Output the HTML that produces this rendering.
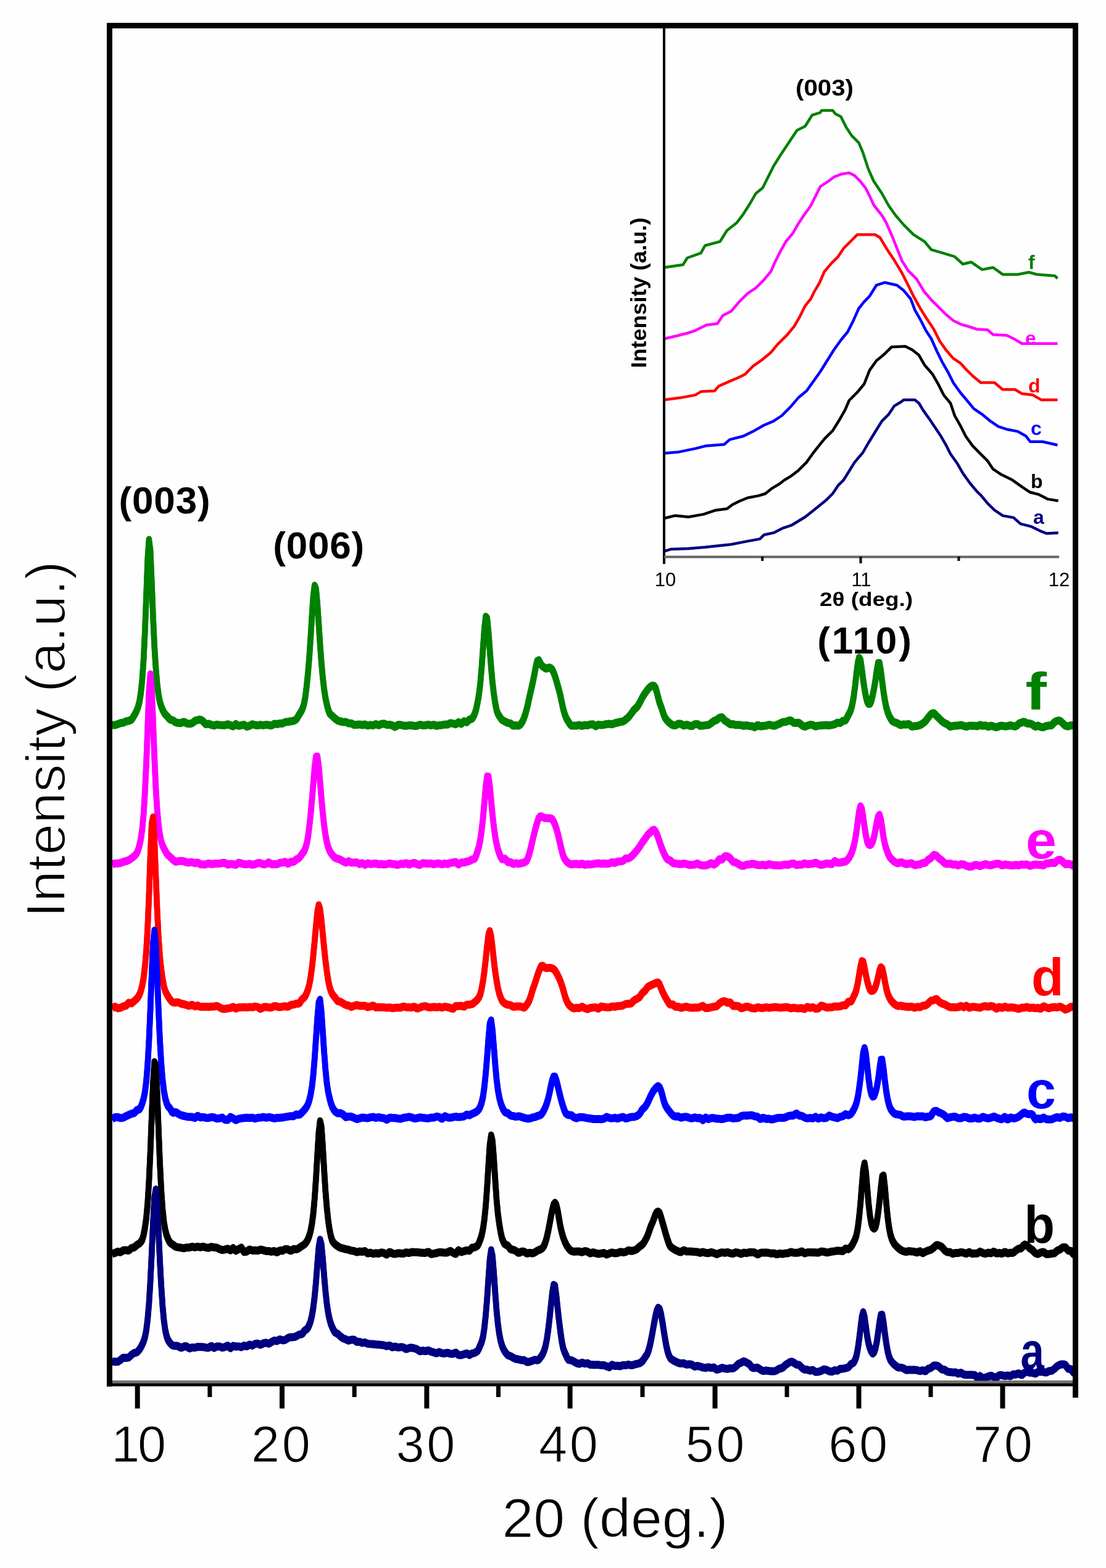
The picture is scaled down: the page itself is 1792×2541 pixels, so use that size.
<!DOCTYPE html>
<html><head><meta charset="utf-8"><title>XRD patterns</title>
<style>html,body{margin:0;padding:0;background:#fff;width:1792px;height:2541px;overflow:hidden}svg{display:block}text{font-family:'Liberation Sans', Arial, sans-serif}</style>
</head><body>
<svg width="1792" height="2541" viewBox="0 0 1792 2541">
<rect width="1792" height="2541" fill="#fefefe"/>
<path id="cvf" d="M182.0,1175.0 L184.2,1174.9 L186.4,1174.9 L188.6,1174.2 L190.8,1173.5 L193.0,1172.7 L195.2,1171.8 L197.4,1171.5 L199.6,1171.2 L201.8,1170.2 L204.0,1169.0 L206.2,1168.6 L208.4,1168.1 L210.6,1167.4 L212.8,1166.5 L215.0,1163.5 L217.2,1159.6 L219.4,1155.9 L221.6,1151.2 L223.8,1145.4 L226.0,1136.8 L228.2,1123.0 L230.4,1101.7 L232.6,1069.8 L234.8,1024.7 L237.0,966.6 L239.2,906.8 L241.4,875.0 L243.6,892.3 L245.8,942.7 L248.0,999.8 L250.2,1047.4 L252.4,1082.4 L254.6,1107.9 L256.8,1125.9 L259.0,1137.3 L261.2,1144.4 L263.4,1149.9 L265.6,1154.5 L267.8,1157.7 L270.0,1159.9 L272.2,1162.3 L274.4,1165.0 L276.6,1166.4 L278.8,1166.9 L281.0,1167.9 L283.2,1169.7 L285.4,1170.8 L287.6,1171.3 L289.8,1171.6 L292.0,1171.8 L294.2,1171.3 L296.4,1170.1 L298.6,1169.9 L300.8,1171.4 L303.0,1172.4 L305.2,1172.7 L307.4,1172.8 L309.6,1172.6 L311.8,1171.7 L314.0,1169.7 L316.2,1168.0 L318.4,1167.5 L320.6,1166.9 L322.8,1166.1 L325.0,1166.4 L327.2,1167.5 L329.4,1169.3 L331.6,1171.9 L333.8,1173.7 L336.0,1173.3 L338.2,1173.0 L340.4,1173.9 L342.6,1174.6 L344.8,1175.4 L347.0,1175.8 L349.2,1174.9 L351.4,1174.2 L353.6,1174.6 L355.8,1174.9 L358.0,1175.1 L360.2,1175.3 L362.4,1175.3 L364.6,1175.2 L366.8,1174.4 L369.0,1173.7 L371.2,1174.5 L373.4,1175.4 L375.6,1176.2 L377.8,1177.0 L380.0,1175.2 L382.2,1173.3 L384.4,1174.8 L386.6,1176.3 L388.8,1175.9 L391.0,1175.4 L393.2,1174.9 L395.4,1174.4 L397.6,1175.9 L399.8,1177.6 L402.0,1177.0 L404.2,1176.2 L406.4,1175.0 L408.6,1173.7 L410.8,1174.1 L413.0,1174.9 L415.2,1175.3 L417.4,1175.6 L419.6,1175.2 L421.8,1174.6 L424.0,1174.9 L426.2,1175.4 L428.4,1175.1 L430.6,1174.5 L432.8,1174.6 L435.0,1175.0 L437.2,1175.4 L439.4,1175.7 L441.6,1174.8 L443.8,1173.3 L446.0,1173.0 L448.2,1173.4 L450.4,1173.2 L452.6,1172.5 L454.8,1172.3 L457.0,1172.4 L459.2,1171.7 L461.4,1170.5 L463.6,1169.9 L465.8,1169.8 L468.0,1169.5 L470.2,1169.0 L472.4,1168.7 L474.6,1168.4 L476.8,1167.7 L479.0,1166.5 L481.2,1164.1 L483.4,1160.3 L485.6,1156.8 L487.8,1153.3 L490.0,1148.7 L492.2,1142.2 L494.4,1131.3 L496.6,1114.4 L498.8,1093.0 L501.0,1066.9 L503.2,1034.5 L505.4,998.3 L507.6,966.1 L509.8,949.2 L512.0,954.5 L514.2,977.9 L516.4,1010.7 L518.6,1044.1 L520.8,1073.8 L523.0,1098.4 L525.2,1117.4 L527.4,1131.4 L529.6,1141.8 L531.8,1150.1 L534.0,1155.9 L536.2,1158.4 L538.4,1160.2 L540.6,1162.4 L542.8,1164.3 L545.0,1166.1 L547.2,1167.7 L549.4,1168.3 L551.6,1168.9 L553.8,1169.6 L556.0,1170.1 L558.2,1170.0 L560.4,1170.0 L562.6,1171.1 L564.8,1172.1 L567.0,1172.2 L569.2,1172.2 L571.4,1173.5 L573.6,1174.7 L575.8,1174.6 L578.0,1174.5 L580.2,1174.2 L582.4,1173.9 L584.6,1174.4 L586.8,1175.0 L589.0,1174.5 L591.2,1174.0 L593.4,1174.9 L595.6,1175.8 L597.8,1175.4 L600.0,1174.8 L602.2,1175.1 L604.4,1175.6 L606.6,1174.7 L608.8,1173.5 L611.0,1174.2 L613.2,1175.3 L615.4,1174.6 L617.6,1173.3 L619.8,1172.9 L622.0,1172.7 L624.2,1173.5 L626.4,1174.6 L628.6,1174.7 L630.8,1174.3 L633.0,1174.7 L635.2,1175.5 L637.4,1176.6 L639.6,1178.0 L641.8,1177.1 L644.0,1175.2 L646.2,1174.6 L648.4,1174.7 L650.6,1175.1 L652.8,1175.6 L655.0,1176.0 L657.2,1176.2 L659.4,1176.0 L661.6,1175.6 L663.8,1175.4 L666.0,1175.4 L668.2,1175.7 L670.4,1176.2 L672.6,1176.5 L674.8,1176.3 L677.0,1175.8 L679.2,1174.8 L681.4,1174.5 L683.6,1175.1 L685.8,1175.5 L688.0,1175.5 L690.2,1175.2 L692.4,1174.5 L694.6,1174.4 L696.8,1175.2 L699.0,1175.4 L701.2,1174.7 L703.4,1174.6 L705.6,1175.7 L707.8,1176.3 L710.0,1175.7 L712.2,1175.3 L714.4,1175.2 L716.6,1174.9 L718.8,1174.4 L721.0,1174.1 L723.2,1174.3 L725.4,1174.1 L727.6,1172.8 L729.8,1171.8 L732.0,1172.2 L734.2,1172.6 L736.4,1173.4 L738.6,1173.7 L740.8,1171.8 L743.0,1170.4 L745.2,1171.9 L747.4,1173.0 L749.6,1170.9 L751.8,1168.9 L754.0,1169.8 L756.2,1170.4 L758.4,1168.3 L760.6,1166.1 L762.8,1165.5 L765.0,1164.3 L767.2,1160.9 L769.4,1156.2 L771.6,1148.8 L773.8,1138.1 L776.0,1125.8 L778.2,1107.7 L780.4,1081.7 L782.6,1050.7 L784.8,1019.3 L787.0,999.4 L789.2,1002.0 L791.4,1023.2 L793.6,1052.8 L795.8,1082.1 L798.0,1106.3 L800.2,1124.8 L802.4,1139.8 L804.6,1150.8 L806.8,1156.8 L809.0,1160.4 L811.2,1163.7 L813.4,1166.4 L815.6,1168.0 L817.8,1169.0 L820.0,1170.2 L822.2,1171.3 L824.4,1171.8 L826.6,1172.1 L828.8,1173.7 L831.0,1175.8 L833.2,1176.1 L835.4,1175.4 L837.6,1175.7 L839.8,1176.1 L842.0,1175.2 L844.2,1172.9 L846.4,1169.5 L848.6,1164.6 L850.8,1158.4 L853.0,1150.8 L855.2,1141.7 L857.4,1131.6 L859.6,1121.7 L861.8,1112.2 L864.0,1102.2 L866.2,1090.8 L868.4,1079.0 L870.6,1071.0 L872.8,1070.0 L875.0,1073.7 L877.2,1077.7 L879.4,1080.1 L881.6,1081.5 L883.8,1083.1 L886.0,1083.5 L888.2,1082.2 L890.4,1081.8 L892.6,1082.9 L894.8,1085.3 L897.0,1089.8 L899.2,1095.7 L901.4,1103.0 L903.6,1111.0 L905.8,1118.4 L908.0,1127.3 L910.2,1138.1 L912.4,1148.0 L914.6,1156.0 L916.8,1162.3 L919.0,1166.6 L921.2,1169.8 L923.4,1173.5 L925.6,1175.9 L927.8,1176.0 L930.0,1175.9 L932.2,1176.0 L934.4,1176.0 L936.6,1175.4 L938.8,1175.0 L941.0,1175.8 L943.2,1176.3 L945.4,1175.7 L947.6,1175.1 L949.8,1175.3 L952.0,1175.4 L954.2,1174.7 L956.4,1174.0 L958.6,1173.9 L960.8,1173.8 L963.0,1175.4 L965.2,1176.9 L967.4,1175.6 L969.6,1174.3 L971.8,1174.7 L974.0,1175.1 L976.2,1174.8 L978.4,1174.4 L980.6,1174.0 L982.8,1173.5 L985.0,1173.3 L987.2,1173.0 L989.4,1173.4 L991.6,1173.8 L993.8,1173.0 L996.0,1172.0 L998.2,1171.5 L1000.4,1171.0 L1002.6,1170.5 L1004.8,1169.8 L1007.0,1169.5 L1009.2,1169.2 L1011.4,1167.9 L1013.6,1166.2 L1015.8,1164.4 L1018.0,1162.4 L1020.2,1159.9 L1022.4,1157.0 L1024.6,1154.0 L1026.8,1150.7 L1029.0,1148.6 L1031.2,1146.8 L1033.4,1143.9 L1035.6,1140.3 L1037.8,1136.1 L1040.0,1131.6 L1042.2,1127.8 L1044.4,1124.5 L1046.6,1121.2 L1048.8,1118.2 L1051.0,1115.5 L1053.2,1113.3 L1055.4,1111.8 L1057.6,1111.1 L1059.8,1111.4 L1062.0,1114.5 L1064.2,1121.3 L1066.4,1130.5 L1068.6,1138.4 L1070.8,1144.3 L1073.0,1150.7 L1075.2,1157.7 L1077.4,1162.8 L1079.6,1166.1 L1081.8,1168.6 L1084.0,1170.8 L1086.2,1172.6 L1088.4,1174.2 L1090.6,1175.3 L1092.8,1175.6 L1095.0,1175.3 L1097.2,1173.9 L1099.4,1172.9 L1101.6,1172.8 L1103.8,1173.3 L1106.0,1175.0 L1108.2,1176.0 L1110.4,1175.0 L1112.6,1174.4 L1114.8,1175.1 L1117.0,1175.8 L1119.2,1176.4 L1121.4,1176.6 L1123.6,1175.0 L1125.8,1173.7 L1128.0,1173.4 L1130.2,1173.5 L1132.4,1175.0 L1134.6,1176.3 L1136.8,1176.1 L1139.0,1175.9 L1141.2,1175.6 L1143.4,1175.3 L1145.6,1175.1 L1147.8,1174.8 L1150.0,1173.5 L1152.2,1171.9 L1154.4,1170.3 L1156.6,1168.4 L1158.8,1167.7 L1161.0,1166.9 L1163.2,1164.9 L1165.4,1163.4 L1167.6,1162.6 L1169.8,1162.5 L1172.0,1164.8 L1174.2,1167.6 L1176.4,1168.9 L1178.6,1170.2 L1180.8,1172.0 L1183.0,1173.5 L1185.2,1173.8 L1187.4,1173.6 L1189.6,1174.2 L1191.8,1174.8 L1194.0,1174.8 L1196.2,1174.8 L1198.4,1174.9 L1200.6,1175.0 L1202.8,1175.6 L1205.0,1176.3 L1207.2,1176.0 L1209.4,1175.4 L1211.6,1175.8 L1213.8,1176.6 L1216.0,1176.8 L1218.2,1176.8 L1220.4,1177.5 L1222.6,1178.6 L1224.8,1177.5 L1227.0,1175.3 L1229.2,1175.5 L1231.4,1176.9 L1233.6,1177.1 L1235.8,1176.4 L1238.0,1176.2 L1240.2,1176.2 L1242.4,1175.7 L1244.6,1174.7 L1246.8,1174.6 L1249.0,1175.2 L1251.2,1175.7 L1253.4,1176.2 L1255.6,1176.0 L1257.8,1174.9 L1260.0,1174.0 L1262.2,1173.3 L1264.4,1172.2 L1266.6,1170.9 L1268.8,1170.1 L1271.0,1170.1 L1273.2,1169.7 L1275.4,1168.8 L1277.6,1168.1 L1279.8,1167.4 L1282.0,1167.9 L1284.2,1170.0 L1286.4,1171.3 L1288.6,1171.5 L1290.8,1171.4 L1293.0,1171.2 L1295.2,1171.7 L1297.4,1173.7 L1299.6,1175.5 L1301.8,1176.8 L1304.0,1177.5 L1306.2,1176.7 L1308.4,1175.9 L1310.6,1175.1 L1312.8,1174.5 L1315.0,1174.6 L1317.2,1175.0 L1319.4,1176.3 L1321.6,1177.2 L1323.8,1176.5 L1326.0,1175.9 L1328.2,1175.8 L1330.4,1175.6 L1332.6,1175.4 L1334.8,1175.2 L1337.0,1175.2 L1339.2,1175.1 L1341.4,1175.4 L1343.6,1175.6 L1345.8,1175.2 L1348.0,1174.8 L1350.2,1174.2 L1352.4,1173.6 L1354.6,1172.4 L1356.8,1171.1 L1359.0,1171.4 L1361.2,1171.7 L1363.4,1170.1 L1365.6,1168.2 L1367.8,1167.9 L1370.0,1167.3 L1372.2,1163.6 L1374.4,1159.0 L1376.6,1155.2 L1378.8,1149.7 L1381.0,1141.2 L1383.2,1129.2 L1385.4,1112.5 L1387.6,1092.4 L1389.8,1075.0 L1392.0,1066.0 L1394.2,1069.7 L1396.4,1084.7 L1398.6,1102.0 L1400.8,1116.8 L1403.0,1128.8 L1405.2,1137.1 L1407.4,1140.8 L1409.6,1140.6 L1411.8,1135.6 L1414.0,1126.5 L1416.2,1115.9 L1418.4,1102.6 L1420.6,1086.5 L1422.8,1074.5 L1425.0,1074.6 L1427.2,1087.3 L1429.4,1104.9 L1431.6,1121.4 L1433.8,1135.4 L1436.0,1146.3 L1438.2,1154.0 L1440.4,1159.4 L1442.6,1163.6 L1444.8,1167.2 L1447.0,1169.3 L1449.2,1170.3 L1451.4,1171.2 L1453.6,1171.9 L1455.8,1173.1 L1458.0,1174.7 L1460.2,1175.1 L1462.4,1174.2 L1464.6,1173.8 L1466.8,1174.2 L1469.0,1174.1 L1471.2,1173.4 L1473.4,1173.9 L1475.6,1176.1 L1477.8,1177.4 L1480.0,1177.0 L1482.2,1176.7 L1484.4,1176.5 L1486.6,1176.2 L1488.8,1175.7 L1491.0,1174.9 L1493.2,1173.6 L1495.4,1172.1 L1497.6,1170.5 L1499.8,1168.3 L1502.0,1165.4 L1504.2,1162.4 L1506.4,1159.6 L1508.6,1157.3 L1510.8,1155.9 L1513.0,1155.8 L1515.2,1157.6 L1517.4,1160.2 L1519.6,1162.2 L1521.8,1164.4 L1524.0,1166.8 L1526.2,1168.8 L1528.4,1170.5 L1530.6,1171.8 L1532.8,1172.9 L1535.0,1173.8 L1537.2,1175.8 L1539.4,1177.5 L1541.6,1177.0 L1543.8,1176.5 L1546.0,1176.3 L1548.2,1176.1 L1550.4,1176.0 L1552.6,1175.7 L1554.8,1175.3 L1557.0,1174.9 L1559.2,1175.6 L1561.4,1176.3 L1563.6,1176.9 L1565.8,1177.6 L1568.0,1176.9 L1570.2,1176.1 L1572.4,1176.1 L1574.6,1176.3 L1576.8,1176.3 L1579.0,1176.3 L1581.2,1176.5 L1583.4,1176.8 L1585.6,1175.9 L1587.8,1174.8 L1590.0,1175.4 L1592.2,1176.2 L1594.4,1176.1 L1596.6,1175.7 L1598.8,1176.5 L1601.0,1177.7 L1603.2,1177.1 L1605.4,1176.1 L1607.6,1176.4 L1609.8,1177.3 L1612.0,1178.0 L1614.2,1178.6 L1616.4,1178.0 L1618.6,1176.8 L1620.8,1176.3 L1623.0,1176.1 L1625.2,1176.4 L1627.4,1176.9 L1629.6,1177.0 L1631.8,1176.8 L1634.0,1176.3 L1636.2,1175.6 L1638.4,1175.7 L1640.6,1176.3 L1642.8,1176.9 L1645.0,1177.3 L1647.2,1176.3 L1649.4,1174.0 L1651.6,1172.3 L1653.8,1171.5 L1656.0,1170.6 L1658.2,1169.8 L1660.4,1170.1 L1662.6,1171.5 L1664.8,1172.4 L1667.0,1172.3 L1669.2,1172.7 L1671.4,1173.5 L1673.6,1174.8 L1675.8,1176.8 L1678.0,1177.5 L1680.2,1176.3 L1682.4,1176.0 L1684.6,1177.3 L1686.8,1178.2 L1689.0,1178.5 L1691.2,1178.3 L1693.4,1177.3 L1695.6,1176.5 L1697.8,1176.1 L1700.0,1175.8 L1702.2,1175.8 L1704.4,1175.0 L1706.6,1172.4 L1708.8,1170.1 L1711.0,1168.9 L1713.2,1168.1 L1715.4,1167.7 L1717.6,1168.1 L1719.8,1170.0 L1722.0,1172.2 L1724.2,1174.3 L1726.4,1176.2 L1728.6,1176.7 L1730.8,1177.0 L1733.0,1176.2 L1735.2,1175.4 L1737.4,1175.6 L1739.6,1175.8 L1741.8,1176.1" fill="none" stroke="#008000" stroke-width="9.5" stroke-linejoin="round" stroke-linecap="butt" transform="translate(0,-1.75)"/>
<use href="#cvf" transform="translate(0,3.5)"/>
<path id="cve" d="M182.0,1400.4 L184.2,1399.8 L186.4,1399.3 L188.6,1399.2 L190.8,1399.2 L193.0,1398.9 L195.2,1398.5 L197.4,1397.6 L199.6,1396.7 L201.8,1396.2 L204.0,1395.6 L206.2,1394.9 L208.4,1394.0 L210.6,1392.6 L212.8,1391.0 L215.0,1389.4 L217.2,1387.5 L219.4,1385.5 L221.6,1382.6 L223.8,1377.3 L226.0,1369.6 L228.2,1359.2 L230.4,1343.9 L232.6,1320.1 L234.8,1285.0 L237.0,1238.1 L239.2,1179.6 L241.4,1120.6 L243.6,1092.8 L245.8,1115.6 L248.0,1169.0 L250.2,1227.0 L252.4,1275.9 L254.6,1311.7 L256.8,1336.2 L259.0,1352.6 L261.2,1363.3 L263.4,1370.3 L265.6,1374.8 L267.8,1379.0 L270.0,1383.0 L272.2,1385.8 L274.4,1387.6 L276.6,1389.6 L278.8,1391.7 L281.0,1393.8 L283.2,1395.8 L285.4,1396.5 L287.6,1395.9 L289.8,1395.4 L292.0,1395.3 L294.2,1395.3 L296.4,1395.4 L298.6,1395.9 L300.8,1396.9 L303.0,1397.6 L305.2,1397.7 L307.4,1397.7 L309.6,1397.2 L311.8,1397.3 L314.0,1398.2 L316.2,1398.7 L318.4,1398.0 L320.6,1397.9 L322.8,1399.5 L325.0,1400.7 L327.2,1400.7 L329.4,1400.8 L331.6,1400.9 L333.8,1400.7 L336.0,1399.8 L338.2,1399.2 L340.4,1399.9 L342.6,1400.4 L344.8,1400.0 L347.0,1399.7 L349.2,1399.6 L351.4,1399.5 L353.6,1399.5 L355.8,1399.5 L358.0,1398.9 L360.2,1398.4 L362.4,1398.3 L364.6,1398.4 L366.8,1399.8 L369.0,1401.2 L371.2,1400.6 L373.4,1400.0 L375.6,1400.3 L377.8,1400.5 L380.0,1401.0 L382.2,1401.5 L384.4,1399.8 L386.6,1398.1 L388.8,1398.6 L391.0,1399.2 L393.2,1399.8 L395.4,1400.4 L397.6,1400.6 L399.8,1400.7 L402.0,1400.3 L404.2,1399.8 L406.4,1400.5 L408.6,1401.4 L410.8,1401.0 L413.0,1400.5 L415.2,1399.6 L417.4,1398.7 L419.6,1398.6 L421.8,1398.7 L424.0,1399.6 L426.2,1400.6 L428.4,1400.7 L430.6,1400.4 L432.8,1399.2 L435.0,1397.6 L437.2,1398.6 L439.4,1400.6 L441.6,1400.8 L443.8,1400.2 L446.0,1400.3 L448.2,1400.6 L450.4,1399.9 L452.6,1398.7 L454.8,1398.1 L457.0,1398.0 L459.2,1397.4 L461.4,1396.6 L463.6,1397.5 L465.8,1399.5 L468.0,1399.2 L470.2,1397.0 L472.4,1396.3 L474.6,1396.8 L476.8,1395.9 L479.0,1393.6 L481.2,1392.1 L483.4,1391.3 L485.6,1389.4 L487.8,1386.2 L490.0,1383.1 L492.2,1380.2 L494.4,1375.6 L496.6,1368.7 L498.8,1357.7 L501.0,1341.1 L503.2,1320.7 L505.4,1297.3 L507.6,1270.2 L509.8,1243.5 L512.0,1226.4 L514.2,1226.0 L516.4,1241.7 L518.6,1266.9 L520.8,1293.7 L523.0,1317.8 L525.2,1337.7 L527.4,1353.3 L529.6,1364.9 L531.8,1372.9 L534.0,1378.5 L536.2,1382.5 L538.4,1385.4 L540.6,1388.0 L542.8,1390.0 L545.0,1390.9 L547.2,1391.7 L549.4,1392.4 L551.6,1393.2 L553.8,1394.6 L556.0,1396.0 L558.2,1397.1 L560.4,1397.9 L562.6,1396.8 L564.8,1395.6 L567.0,1396.9 L569.2,1398.1 L571.4,1397.9 L573.6,1397.7 L575.8,1397.7 L578.0,1397.6 L580.2,1398.9 L582.4,1400.2 L584.6,1399.5 L586.8,1398.8 L589.0,1400.0 L591.2,1401.4 L593.4,1400.3 L595.6,1398.9 L597.8,1399.4 L600.0,1400.3 L602.2,1400.1 L604.4,1399.7 L606.6,1399.4 L608.8,1399.2 L611.0,1399.8 L613.2,1400.7 L615.4,1400.6 L617.6,1400.1 L619.8,1400.5 L622.0,1401.0 L624.2,1400.8 L626.4,1400.4 L628.6,1399.9 L630.8,1399.2 L633.0,1399.5 L635.2,1400.1 L637.4,1400.4 L639.6,1400.5 L641.8,1401.0 L644.0,1401.6 L646.2,1401.0 L648.4,1399.9 L650.6,1399.7 L652.8,1400.3 L655.0,1399.9 L657.2,1398.8 L659.4,1399.2 L661.6,1400.8 L663.8,1400.9 L666.0,1399.7 L668.2,1399.0 L670.4,1398.5 L672.6,1398.8 L674.8,1399.9 L677.0,1400.9 L679.2,1401.6 L681.4,1401.3 L683.6,1399.6 L685.8,1398.7 L688.0,1399.0 L690.2,1399.2 L692.4,1399.4 L694.6,1399.4 L696.8,1399.2 L699.0,1399.3 L701.2,1400.3 L703.4,1400.6 L705.6,1399.8 L707.8,1399.3 L710.0,1399.3 L712.2,1399.5 L714.4,1400.3 L716.6,1400.7 L718.8,1399.7 L721.0,1399.2 L723.2,1399.9 L725.4,1400.2 L727.6,1399.2 L729.8,1398.4 L732.0,1398.1 L734.2,1397.8 L736.4,1397.2 L738.6,1397.1 L740.8,1399.3 L743.0,1400.9 L745.2,1399.3 L747.4,1397.8 L749.6,1397.8 L751.8,1397.8 L754.0,1397.1 L756.2,1396.4 L758.4,1395.9 L760.6,1395.2 L762.8,1394.1 L765.0,1392.8 L767.2,1392.3 L769.4,1391.2 L771.6,1386.0 L773.8,1379.3 L776.0,1371.7 L778.2,1360.7 L780.4,1345.7 L782.6,1325.7 L784.8,1300.7 L787.0,1275.0 L789.2,1258.3 L791.4,1258.6 L793.6,1273.9 L795.8,1297.5 L798.0,1320.6 L800.2,1340.3 L802.4,1356.2 L804.6,1367.9 L806.8,1376.8 L809.0,1383.3 L811.2,1388.3 L813.4,1392.2 L815.6,1392.4 L817.8,1391.3 L820.0,1393.5 L822.2,1396.6 L824.4,1397.3 L826.6,1396.9 L828.8,1398.1 L831.0,1400.0 L833.2,1399.9 L835.4,1398.9 L837.6,1399.0 L839.8,1399.7 L842.0,1399.6 L844.2,1398.8 L846.4,1398.3 L848.6,1397.8 L850.8,1396.9 L853.0,1395.3 L855.2,1391.0 L857.4,1384.2 L859.6,1375.8 L861.8,1366.4 L864.0,1357.0 L866.2,1348.2 L868.4,1339.9 L870.6,1332.0 L872.8,1325.9 L875.0,1323.1 L877.2,1322.9 L879.4,1324.1 L881.6,1325.3 L883.8,1325.7 L886.0,1325.8 L888.2,1325.9 L890.4,1326.0 L892.6,1326.2 L894.8,1327.7 L897.0,1331.4 L899.2,1336.3 L901.4,1342.3 L903.6,1350.2 L905.8,1359.6 L908.0,1369.4 L910.2,1378.6 L912.4,1386.3 L914.6,1391.3 L916.8,1394.7 L919.0,1397.2 L921.2,1398.7 L923.4,1400.0 L925.6,1400.7 L927.8,1400.4 L930.0,1400.2 L932.2,1400.1 L934.4,1400.0 L936.6,1400.5 L938.8,1400.7 L941.0,1400.1 L943.2,1399.6 L945.4,1400.6 L947.6,1401.5 L949.8,1401.0 L952.0,1400.6 L954.2,1400.7 L956.4,1400.9 L958.6,1400.6 L960.8,1400.2 L963.0,1399.8 L965.2,1399.4 L967.4,1399.2 L969.6,1399.0 L971.8,1399.4 L974.0,1399.7 L976.2,1399.5 L978.4,1399.2 L980.6,1399.5 L982.8,1399.9 L985.0,1399.6 L987.2,1399.3 L989.4,1398.4 L991.6,1397.3 L993.8,1397.7 L996.0,1398.4 L998.2,1397.4 L1000.4,1396.2 L1002.6,1396.0 L1004.8,1395.9 L1007.0,1395.6 L1009.2,1395.1 L1011.4,1393.4 L1013.6,1391.3 L1015.8,1391.0 L1018.0,1391.1 L1020.2,1390.0 L1022.4,1388.4 L1024.6,1386.4 L1026.8,1384.1 L1029.0,1381.6 L1031.2,1378.9 L1033.4,1376.1 L1035.6,1373.2 L1037.8,1369.8 L1040.0,1366.2 L1042.2,1363.1 L1044.4,1360.2 L1046.6,1357.1 L1048.8,1353.9 L1051.0,1351.3 L1053.2,1349.3 L1055.4,1347.2 L1057.6,1345.2 L1059.8,1344.8 L1062.0,1347.0 L1064.2,1351.5 L1066.4,1357.4 L1068.6,1364.0 L1070.8,1370.5 L1073.0,1376.5 L1075.2,1381.6 L1077.4,1386.2 L1079.6,1390.4 L1081.8,1392.9 L1084.0,1393.4 L1086.2,1394.5 L1088.4,1397.0 L1090.6,1398.5 L1092.8,1399.0 L1095.0,1399.3 L1097.2,1399.7 L1099.4,1400.0 L1101.6,1400.3 L1103.8,1400.3 L1106.0,1399.8 L1108.2,1399.5 L1110.4,1399.9 L1112.6,1400.4 L1114.8,1401.0 L1117.0,1401.5 L1119.2,1401.5 L1121.4,1401.4 L1123.6,1401.3 L1125.8,1401.0 L1128.0,1399.9 L1130.2,1399.3 L1132.4,1400.6 L1134.6,1401.8 L1136.8,1402.2 L1139.0,1402.6 L1141.2,1402.5 L1143.4,1402.3 L1145.6,1401.8 L1147.8,1401.2 L1150.0,1399.9 L1152.2,1398.7 L1154.4,1400.0 L1156.6,1401.1 L1158.8,1399.8 L1161.0,1398.2 L1163.2,1395.5 L1165.4,1392.5 L1167.6,1392.7 L1169.8,1392.9 L1172.0,1390.3 L1174.2,1388.0 L1176.4,1387.5 L1178.6,1387.8 L1180.8,1389.0 L1183.0,1390.8 L1185.2,1393.5 L1187.4,1396.4 L1189.6,1397.2 L1191.8,1397.5 L1194.0,1398.7 L1196.2,1399.9 L1198.4,1401.3 L1200.6,1402.7 L1202.8,1403.0 L1205.0,1403.1 L1207.2,1402.3 L1209.4,1401.3 L1211.6,1401.0 L1213.8,1400.9 L1216.0,1400.5 L1218.2,1399.8 L1220.4,1399.9 L1222.6,1400.3 L1224.8,1400.9 L1227.0,1401.6 L1229.2,1401.9 L1231.4,1401.9 L1233.6,1401.7 L1235.8,1401.6 L1238.0,1401.8 L1240.2,1402.4 L1242.4,1402.0 L1244.6,1400.8 L1246.8,1400.6 L1249.0,1401.1 L1251.2,1401.6 L1253.4,1402.1 L1255.6,1402.3 L1257.8,1402.2 L1260.0,1402.3 L1262.2,1402.6 L1264.4,1402.5 L1266.6,1402.1 L1268.8,1401.6 L1271.0,1401.2 L1273.2,1401.1 L1275.4,1401.5 L1277.6,1401.4 L1279.8,1400.5 L1282.0,1399.8 L1284.2,1399.4 L1286.4,1399.6 L1288.6,1401.0 L1290.8,1401.8 L1293.0,1401.4 L1295.2,1401.1 L1297.4,1401.3 L1299.6,1401.1 L1301.8,1399.8 L1304.0,1399.1 L1306.2,1399.9 L1308.4,1400.5 L1310.6,1400.3 L1312.8,1400.1 L1315.0,1399.9 L1317.2,1399.5 L1319.4,1398.6 L1321.6,1398.0 L1323.8,1399.2 L1326.0,1400.3 L1328.2,1401.0 L1330.4,1401.6 L1332.6,1401.1 L1334.8,1400.7 L1337.0,1399.9 L1339.2,1399.3 L1341.4,1399.5 L1343.6,1399.7 L1345.8,1400.1 L1348.0,1400.2 L1350.2,1397.8 L1352.4,1395.3 L1354.6,1396.7 L1356.8,1398.0 L1359.0,1398.0 L1361.2,1398.0 L1363.4,1397.4 L1365.6,1396.8 L1367.8,1396.5 L1370.0,1396.0 L1372.2,1394.2 L1374.4,1391.9 L1376.6,1388.7 L1378.8,1384.4 L1381.0,1379.0 L1383.2,1371.5 L1385.4,1361.4 L1387.6,1348.1 L1389.8,1331.2 L1392.0,1314.8 L1394.2,1306.7 L1396.4,1311.0 L1398.6,1324.6 L1400.8,1340.4 L1403.0,1354.0 L1405.2,1363.9 L1407.4,1368.6 L1409.6,1369.4 L1411.8,1368.0 L1414.0,1363.7 L1416.2,1356.2 L1418.4,1345.3 L1420.6,1333.0 L1422.8,1323.2 L1425.0,1320.6 L1427.2,1327.9 L1429.4,1342.1 L1431.6,1357.1 L1433.8,1368.2 L1436.0,1375.5 L1438.2,1381.6 L1440.4,1386.6 L1442.6,1390.1 L1444.8,1392.4 L1447.0,1394.4 L1449.2,1396.4 L1451.4,1397.8 L1453.6,1398.8 L1455.8,1398.7 L1458.0,1397.6 L1460.2,1397.4 L1462.4,1398.1 L1464.6,1399.0 L1466.8,1400.0 L1469.0,1400.4 L1471.2,1399.9 L1473.4,1399.5 L1475.6,1399.0 L1477.8,1399.3 L1480.0,1401.0 L1482.2,1402.0 L1484.4,1401.6 L1486.6,1401.2 L1488.8,1401.0 L1491.0,1400.5 L1493.2,1399.4 L1495.4,1398.5 L1497.6,1398.5 L1499.8,1397.7 L1502.0,1395.2 L1504.2,1392.9 L1506.4,1391.8 L1508.6,1390.3 L1510.8,1387.5 L1513.0,1385.6 L1515.2,1385.7 L1517.4,1386.8 L1519.6,1389.0 L1521.8,1391.4 L1524.0,1392.8 L1526.2,1394.3 L1528.4,1396.8 L1530.6,1398.9 L1532.8,1399.6 L1535.0,1400.0 L1537.2,1399.8 L1539.4,1399.4 L1541.6,1400.3 L1543.8,1401.1 L1546.0,1400.9 L1548.2,1400.7 L1550.4,1401.6 L1552.6,1402.5 L1554.8,1401.5 L1557.0,1400.6 L1559.2,1400.7 L1561.4,1400.8 L1563.6,1401.9 L1565.8,1403.0 L1568.0,1403.7 L1570.2,1404.4 L1572.4,1404.3 L1574.6,1404.2 L1576.8,1403.1 L1579.0,1401.8 L1581.2,1401.8 L1583.4,1401.9 L1585.6,1402.6 L1587.8,1403.5 L1590.0,1402.8 L1592.2,1401.7 L1594.4,1401.1 L1596.6,1400.5 L1598.8,1401.0 L1601.0,1401.7 L1603.2,1402.0 L1605.4,1402.3 L1607.6,1401.7 L1609.8,1400.9 L1612.0,1400.3 L1614.2,1399.8 L1616.4,1399.7 L1618.6,1399.9 L1620.8,1400.8 L1623.0,1402.2 L1625.2,1402.1 L1627.4,1401.2 L1629.6,1401.1 L1631.8,1401.5 L1634.0,1401.8 L1636.2,1402.0 L1638.4,1402.3 L1640.6,1402.5 L1642.8,1402.3 L1645.0,1401.7 L1647.2,1401.7 L1649.4,1402.3 L1651.6,1402.1 L1653.8,1401.2 L1656.0,1400.9 L1658.2,1401.2 L1660.4,1401.2 L1662.6,1400.8 L1664.8,1401.2 L1667.0,1402.5 L1669.2,1403.1 L1671.4,1402.3 L1673.6,1401.7 L1675.8,1401.2 L1678.0,1401.0 L1680.2,1401.2 L1682.4,1401.4 L1684.6,1401.5 L1686.8,1401.7 L1689.0,1402.2 L1691.2,1402.1 L1693.4,1400.5 L1695.6,1399.2 L1697.8,1399.2 L1700.0,1398.9 L1702.2,1398.4 L1704.4,1398.1 L1706.6,1398.6 L1708.8,1398.6 L1711.0,1396.3 L1713.2,1394.4 L1715.4,1393.4 L1717.6,1393.2 L1719.8,1394.6 L1722.0,1396.4 L1724.2,1398.7 L1726.4,1400.6 L1728.6,1400.3 L1730.8,1399.8 L1733.0,1400.4 L1735.2,1400.9 L1737.4,1402.2 L1739.6,1403.3 L1741.8,1403.0" fill="none" stroke="#ff00ff" stroke-width="9.5" stroke-linejoin="round" stroke-linecap="butt" transform="translate(0,-1.75)"/>
<use href="#cve" transform="translate(0,3.5)"/>
<path id="cvd" d="M182.0,1633.4 L184.2,1632.4 L186.4,1631.4 L188.6,1632.7 L190.8,1634.0 L193.0,1633.6 L195.2,1633.1 L197.4,1632.1 L199.6,1630.9 L201.8,1630.4 L204.0,1629.9 L206.2,1627.6 L208.4,1625.1 L210.6,1625.4 L212.8,1626.0 L215.0,1624.5 L217.2,1622.4 L219.4,1620.6 L221.6,1618.6 L223.8,1615.6 L226.0,1611.7 L228.2,1605.8 L230.4,1597.4 L232.6,1585.1 L234.8,1566.8 L237.0,1541.2 L239.2,1503.8 L241.4,1450.9 L243.6,1387.6 L245.8,1334.9 L248.0,1324.7 L250.2,1360.8 L252.4,1418.1 L254.6,1473.6 L256.8,1518.0 L259.0,1549.4 L261.2,1570.3 L263.4,1586.1 L265.6,1598.5 L267.8,1606.2 L270.0,1610.7 L272.2,1614.5 L274.4,1618.1 L276.6,1621.0 L278.8,1623.4 L281.0,1624.6 L283.2,1624.7 L285.4,1624.5 L287.6,1624.3 L289.8,1624.7 L292.0,1625.9 L294.2,1626.7 L296.4,1627.0 L298.6,1627.5 L300.8,1628.3 L303.0,1629.0 L305.2,1629.7 L307.4,1629.7 L309.6,1628.6 L311.8,1628.4 L314.0,1630.1 L316.2,1630.9 L318.4,1629.9 L320.6,1629.5 L322.8,1630.8 L325.0,1631.7 L327.2,1631.6 L329.4,1631.4 L331.6,1631.4 L333.8,1631.4 L336.0,1631.6 L338.2,1631.8 L340.4,1631.5 L342.6,1631.3 L344.8,1631.3 L347.0,1631.2 L349.2,1630.6 L351.4,1630.2 L353.6,1631.3 L355.8,1632.4 L358.0,1633.7 L360.2,1634.8 L362.4,1634.9 L364.6,1635.0 L366.8,1634.6 L369.0,1634.2 L371.2,1633.8 L373.4,1633.4 L375.6,1632.5 L377.8,1631.7 L380.0,1633.0 L382.2,1634.4 L384.4,1633.5 L386.6,1632.5 L388.8,1632.5 L391.0,1632.5 L393.2,1632.3 L395.4,1632.2 L397.6,1632.4 L399.8,1632.6 L402.0,1632.3 L404.2,1632.0 L406.4,1632.1 L408.6,1632.3 L410.8,1631.8 L413.0,1631.1 L415.2,1631.4 L417.4,1631.8 L419.6,1633.2 L421.8,1634.9 L424.0,1634.1 L426.2,1632.5 L428.4,1632.0 L430.6,1631.8 L432.8,1632.1 L435.0,1632.5 L437.2,1632.7 L439.4,1632.7 L441.6,1631.9 L443.8,1630.6 L446.0,1630.5 L448.2,1631.0 L450.4,1631.5 L452.6,1632.1 L454.8,1632.0 L457.0,1631.4 L459.2,1631.0 L461.4,1630.7 L463.6,1630.9 L465.8,1631.5 L468.0,1630.9 L470.2,1629.1 L472.4,1628.2 L474.6,1628.2 L476.8,1627.7 L479.0,1626.7 L481.2,1626.3 L483.4,1626.6 L485.6,1625.2 L487.8,1621.5 L490.0,1618.8 L492.2,1617.3 L494.4,1614.6 L496.6,1610.2 L498.8,1604.2 L501.0,1596.2 L503.2,1584.5 L505.4,1568.5 L507.6,1548.4 L509.8,1525.3 L512.0,1500.3 L514.2,1477.6 L516.4,1467.0 L518.6,1473.6 L520.8,1491.4 L523.0,1513.6 L525.2,1536.4 L527.4,1557.1 L529.6,1574.4 L531.8,1588.8 L534.0,1599.6 L536.2,1606.2 L538.4,1610.8 L540.6,1614.0 L542.8,1616.4 L545.0,1619.7 L547.2,1622.3 L549.4,1622.9 L551.6,1623.4 L553.8,1624.9 L556.0,1626.2 L558.2,1627.5 L560.4,1628.6 L562.6,1629.1 L564.8,1629.5 L567.0,1630.7 L569.2,1631.7 L571.4,1630.9 L573.6,1630.0 L575.8,1629.3 L578.0,1628.7 L580.2,1629.3 L582.4,1630.0 L584.6,1630.0 L586.8,1630.0 L589.0,1630.0 L591.2,1629.9 L593.4,1630.9 L595.6,1632.1 L597.8,1631.7 L600.0,1631.0 L602.2,1630.3 L604.4,1629.5 L606.6,1630.8 L608.8,1632.6 L611.0,1632.6 L613.2,1632.1 L615.4,1632.3 L617.6,1632.6 L619.8,1632.6 L622.0,1632.5 L624.2,1632.7 L626.4,1633.1 L628.6,1632.9 L630.8,1632.6 L633.0,1633.0 L635.2,1633.8 L637.4,1633.7 L639.6,1633.2 L641.8,1633.1 L644.0,1633.1 L646.2,1633.1 L648.4,1633.1 L650.6,1632.4 L652.8,1631.2 L655.0,1631.2 L657.2,1632.1 L659.4,1632.4 L661.6,1632.3 L663.8,1632.5 L666.0,1632.8 L668.2,1632.4 L670.4,1631.4 L672.6,1631.9 L674.8,1633.8 L677.0,1634.3 L679.2,1633.3 L681.4,1632.4 L683.6,1631.5 L685.8,1630.9 L688.0,1630.6 L690.2,1630.8 L692.4,1631.7 L694.6,1632.3 L696.8,1632.4 L699.0,1632.3 L701.2,1631.9 L703.4,1631.7 L705.6,1632.2 L707.8,1632.4 L710.0,1631.9 L712.2,1631.8 L714.4,1632.5 L716.6,1632.8 L718.8,1631.9 L721.0,1631.4 L723.2,1631.8 L725.4,1632.2 L727.6,1632.8 L729.8,1633.4 L732.0,1634.4 L734.2,1634.7 L736.4,1632.3 L738.6,1630.3 L740.8,1630.5 L743.0,1630.6 L745.2,1630.2 L747.4,1629.9 L749.6,1630.7 L751.8,1631.3 L754.0,1629.7 L756.2,1628.2 L758.4,1628.2 L760.6,1628.1 L762.8,1627.7 L765.0,1627.2 L767.2,1625.6 L769.4,1623.7 L771.6,1622.0 L773.8,1619.5 L776.0,1616.3 L778.2,1611.3 L780.4,1602.3 L782.6,1589.8 L784.8,1574.3 L787.0,1554.7 L789.2,1533.2 L791.4,1515.2 L793.6,1508.9 L795.8,1517.8 L798.0,1536.0 L800.2,1556.8 L802.4,1574.9 L804.6,1589.2 L806.8,1601.3 L809.0,1610.3 L811.2,1616.8 L813.4,1621.5 L815.6,1624.3 L817.8,1626.1 L820.0,1627.2 L822.2,1628.0 L824.4,1628.4 L826.6,1628.7 L828.8,1629.8 L831.0,1631.3 L833.2,1631.5 L835.4,1631.1 L837.6,1630.9 L839.8,1630.8 L842.0,1630.9 L844.2,1631.2 L846.4,1632.0 L848.6,1632.9 L850.8,1631.8 L853.0,1628.9 L855.2,1625.6 L857.4,1621.7 L859.6,1615.7 L861.8,1608.1 L864.0,1601.0 L866.2,1594.9 L868.4,1588.2 L870.6,1581.2 L872.8,1575.0 L875.0,1569.4 L877.2,1565.3 L879.4,1565.2 L881.6,1567.1 L883.8,1568.4 L886.0,1568.9 L888.2,1568.6 L890.4,1568.3 L892.6,1568.7 L894.8,1569.4 L897.0,1570.7 L899.2,1572.9 L901.4,1576.3 L903.6,1580.5 L905.8,1584.7 L908.0,1590.1 L910.2,1596.4 L912.4,1603.5 L914.6,1611.6 L916.8,1618.6 L919.0,1623.8 L921.2,1627.6 L923.4,1630.1 L925.6,1631.8 L927.8,1633.3 L930.0,1634.2 L932.2,1633.7 L934.4,1633.2 L936.6,1633.5 L938.8,1633.6 L941.0,1632.4 L943.2,1631.4 L945.4,1632.6 L947.6,1633.8 L949.8,1634.6 L952.0,1635.3 L954.2,1634.4 L956.4,1633.5 L958.6,1633.1 L960.8,1632.8 L963.0,1632.7 L965.2,1632.6 L967.4,1633.6 L969.6,1634.6 L971.8,1632.8 L974.0,1631.0 L976.2,1631.4 L978.4,1631.8 L980.6,1632.1 L982.8,1632.4 L985.0,1632.5 L987.2,1632.6 L989.4,1631.9 L991.6,1631.0 L993.8,1631.1 L996.0,1631.5 L998.2,1631.0 L1000.4,1630.4 L1002.6,1630.3 L1004.8,1630.3 L1007.0,1629.9 L1009.2,1629.3 L1011.4,1628.3 L1013.6,1627.1 L1015.8,1626.8 L1018.0,1626.8 L1020.2,1626.5 L1022.4,1626.1 L1024.6,1624.2 L1026.8,1621.7 L1029.0,1620.2 L1031.2,1619.0 L1033.4,1617.8 L1035.6,1616.4 L1037.8,1613.7 L1040.0,1610.3 L1042.2,1608.0 L1044.4,1606.3 L1046.6,1603.6 L1048.8,1600.3 L1051.0,1598.3 L1053.2,1597.4 L1055.4,1596.4 L1057.6,1595.4 L1059.8,1594.4 L1062.0,1593.4 L1064.2,1592.3 L1066.4,1592.3 L1068.6,1595.2 L1070.8,1600.5 L1073.0,1605.9 L1075.2,1610.6 L1077.4,1615.0 L1079.6,1619.0 L1081.8,1622.6 L1084.0,1626.2 L1086.2,1628.0 L1088.4,1627.6 L1090.6,1628.0 L1092.8,1630.3 L1095.0,1631.6 L1097.2,1631.3 L1099.4,1631.5 L1101.6,1632.6 L1103.8,1633.3 L1106.0,1632.6 L1108.2,1632.1 L1110.4,1631.6 L1112.6,1631.5 L1114.8,1632.2 L1117.0,1632.8 L1119.2,1633.1 L1121.4,1633.3 L1123.6,1632.9 L1125.8,1632.7 L1128.0,1633.0 L1130.2,1633.1 L1132.4,1632.5 L1134.6,1631.8 L1136.8,1630.8 L1139.0,1630.1 L1141.2,1632.0 L1143.4,1633.8 L1145.6,1633.6 L1147.8,1633.4 L1150.0,1632.9 L1152.2,1632.3 L1154.4,1631.9 L1156.6,1631.3 L1158.8,1631.2 L1161.0,1630.8 L1163.2,1628.7 L1165.4,1626.4 L1167.6,1624.9 L1169.8,1623.4 L1172.0,1622.8 L1174.2,1622.6 L1176.4,1623.5 L1178.6,1625.1 L1180.8,1624.7 L1183.0,1624.4 L1185.2,1627.0 L1187.4,1630.0 L1189.6,1630.3 L1191.8,1630.1 L1194.0,1630.3 L1196.2,1630.5 L1198.4,1632.0 L1200.6,1633.7 L1202.8,1633.5 L1205.0,1632.7 L1207.2,1632.0 L1209.4,1631.2 L1211.6,1631.5 L1213.8,1632.1 L1216.0,1632.9 L1218.2,1633.8 L1220.4,1634.1 L1222.6,1634.3 L1224.8,1633.7 L1227.0,1632.6 L1229.2,1632.6 L1231.4,1633.2 L1233.6,1633.5 L1235.8,1633.7 L1238.0,1633.2 L1240.2,1632.4 L1242.4,1632.4 L1244.6,1633.0 L1246.8,1633.2 L1249.0,1632.9 L1251.2,1632.6 L1253.4,1632.3 L1255.6,1632.1 L1257.8,1632.2 L1260.0,1632.4 L1262.2,1632.7 L1264.4,1632.9 L1266.6,1632.8 L1268.8,1632.7 L1271.0,1632.3 L1273.2,1632.1 L1275.4,1632.2 L1277.6,1632.6 L1279.8,1633.6 L1282.0,1634.0 L1284.2,1633.4 L1286.4,1633.1 L1288.6,1633.6 L1290.8,1633.9 L1293.0,1634.1 L1295.2,1634.1 L1297.4,1633.7 L1299.6,1633.7 L1301.8,1634.8 L1304.0,1635.0 L1306.2,1633.0 L1308.4,1631.7 L1310.6,1632.7 L1312.8,1633.3 L1315.0,1632.6 L1317.2,1632.3 L1319.4,1633.6 L1321.6,1634.7 L1323.8,1634.6 L1326.0,1634.1 L1328.2,1631.7 L1330.4,1629.7 L1332.6,1630.2 L1334.8,1630.8 L1337.0,1631.8 L1339.2,1632.7 L1341.4,1632.7 L1343.6,1632.6 L1345.8,1632.5 L1348.0,1632.3 L1350.2,1631.6 L1352.4,1631.0 L1354.6,1631.1 L1356.8,1631.2 L1359.0,1631.0 L1361.2,1630.8 L1363.4,1630.0 L1365.6,1629.1 L1367.8,1629.1 L1370.0,1629.2 L1372.2,1626.4 L1374.4,1623.2 L1376.6,1623.2 L1378.8,1623.1 L1381.0,1619.7 L1383.2,1614.7 L1385.4,1610.3 L1387.6,1603.9 L1389.8,1593.4 L1392.0,1580.1 L1394.2,1566.6 L1396.4,1557.5 L1398.6,1558.5 L1400.8,1568.4 L1403.0,1580.1 L1405.2,1590.3 L1407.4,1598.3 L1409.6,1603.6 L1411.8,1605.9 L1414.0,1605.6 L1416.2,1603.7 L1418.4,1599.7 L1420.6,1592.5 L1422.8,1582.8 L1425.0,1573.0 L1427.2,1567.5 L1429.4,1569.7 L1431.6,1578.6 L1433.8,1590.5 L1436.0,1601.8 L1438.2,1610.1 L1440.4,1615.5 L1442.6,1619.6 L1444.8,1622.6 L1447.0,1625.0 L1449.2,1627.1 L1451.4,1628.6 L1453.6,1629.9 L1455.8,1630.3 L1458.0,1630.0 L1460.2,1630.0 L1462.4,1630.5 L1464.6,1630.8 L1466.8,1631.2 L1469.0,1631.5 L1471.2,1631.8 L1473.4,1631.7 L1475.6,1631.2 L1477.8,1631.4 L1480.0,1632.7 L1482.2,1633.1 L1484.4,1632.2 L1486.6,1631.7 L1488.8,1632.1 L1491.0,1632.0 L1493.2,1630.8 L1495.4,1629.8 L1497.6,1629.8 L1499.8,1629.2 L1502.0,1627.8 L1504.2,1625.9 L1506.4,1623.4 L1508.6,1621.4 L1510.8,1621.2 L1513.0,1620.9 L1515.2,1619.3 L1517.4,1618.9 L1519.6,1621.0 L1521.8,1623.5 L1524.0,1624.9 L1526.2,1626.3 L1528.4,1627.0 L1530.6,1627.6 L1532.8,1629.0 L1535.0,1630.1 L1537.2,1631.3 L1539.4,1632.2 L1541.6,1632.2 L1543.8,1632.2 L1546.0,1632.3 L1548.2,1632.4 L1550.4,1632.2 L1552.6,1632.1 L1554.8,1631.1 L1557.0,1630.2 L1559.2,1631.2 L1561.4,1632.3 L1563.6,1631.1 L1565.8,1629.8 L1568.0,1631.3 L1570.2,1633.0 L1572.4,1632.5 L1574.6,1631.8 L1576.8,1631.8 L1579.0,1631.8 L1581.2,1632.1 L1583.4,1632.4 L1585.6,1632.7 L1587.8,1633.1 L1590.0,1632.2 L1592.2,1631.2 L1594.4,1630.8 L1596.6,1630.6 L1598.8,1630.9 L1601.0,1631.3 L1603.2,1631.0 L1605.4,1630.3 L1607.6,1630.7 L1609.8,1631.4 L1612.0,1632.7 L1614.2,1634.4 L1616.4,1633.8 L1618.6,1632.1 L1620.8,1632.2 L1623.0,1633.3 L1625.2,1632.9 L1627.4,1631.6 L1629.6,1631.8 L1631.8,1632.8 L1634.0,1633.0 L1636.2,1632.6 L1638.4,1632.6 L1640.6,1632.7 L1642.8,1633.0 L1645.0,1633.4 L1647.2,1634.0 L1649.4,1634.8 L1651.6,1634.7 L1653.8,1633.7 L1656.0,1633.1 L1658.2,1633.1 L1660.4,1632.8 L1662.6,1632.1 L1664.8,1632.1 L1667.0,1633.1 L1669.2,1633.5 L1671.4,1632.9 L1673.6,1632.9 L1675.8,1633.6 L1678.0,1633.8 L1680.2,1633.3 L1682.4,1633.3 L1684.6,1634.4 L1686.8,1634.4 L1689.0,1632.1 L1691.2,1630.7 L1693.4,1631.8 L1695.6,1632.8 L1697.8,1633.5 L1700.0,1633.9 L1702.2,1633.1 L1704.4,1632.4 L1706.6,1632.2 L1708.8,1632.0 L1711.0,1632.3 L1713.2,1632.5 L1715.4,1631.8 L1717.6,1631.3 L1719.8,1632.3 L1722.0,1633.3 L1724.2,1634.8 L1726.4,1636.1 L1728.6,1635.2 L1730.8,1634.3 L1733.0,1632.9 L1735.2,1631.6 L1737.4,1631.7 L1739.6,1631.9 L1741.8,1632.2" fill="none" stroke="#ff0000" stroke-width="9.5" stroke-linejoin="round" stroke-linecap="butt" transform="translate(0,-1.75)"/>
<use href="#cvd" transform="translate(0,3.5)"/>
<path id="cvc" d="M182.0,1813.3 L184.2,1812.0 L186.4,1810.6 L188.6,1810.5 L190.8,1810.4 L193.0,1811.1 L195.2,1811.9 L197.4,1811.6 L199.6,1811.3 L201.8,1810.2 L204.0,1808.9 L206.2,1807.9 L208.4,1806.9 L210.6,1805.9 L212.8,1804.8 L215.0,1804.3 L217.2,1803.8 L219.4,1801.7 L221.6,1799.1 L223.8,1798.4 L226.0,1797.7 L228.2,1793.9 L230.4,1788.1 L232.6,1780.9 L234.8,1769.8 L237.0,1752.3 L239.2,1725.4 L241.4,1686.4 L243.6,1635.8 L245.8,1578.5 L248.0,1528.1 L250.2,1508.2 L252.4,1529.7 L254.6,1579.1 L256.8,1635.4 L259.0,1684.8 L261.2,1722.6 L263.4,1749.6 L265.6,1767.8 L267.8,1779.8 L270.0,1787.8 L272.2,1792.5 L274.4,1795.0 L276.6,1798.1 L278.8,1802.1 L281.0,1803.4 L283.2,1802.2 L285.4,1802.4 L287.6,1804.1 L289.8,1805.5 L292.0,1806.7 L294.2,1807.5 L296.4,1808.0 L298.6,1808.5 L300.8,1809.1 L303.0,1809.6 L305.2,1809.9 L307.4,1810.1 L309.6,1810.0 L311.8,1810.3 L314.0,1811.3 L316.2,1811.4 L318.4,1809.4 L320.6,1808.4 L322.8,1809.9 L325.0,1810.9 L327.2,1810.5 L329.4,1810.4 L331.6,1811.0 L333.8,1811.5 L336.0,1811.7 L338.2,1811.6 L340.4,1810.9 L342.6,1810.4 L344.8,1810.6 L347.0,1811.0 L349.2,1811.9 L351.4,1812.7 L353.6,1812.5 L355.8,1812.2 L358.0,1811.6 L360.2,1811.1 L362.4,1812.9 L364.6,1814.6 L366.8,1814.8 L369.0,1814.8 L371.2,1812.4 L373.4,1810.1 L375.6,1811.2 L377.8,1812.4 L380.0,1813.8 L382.2,1815.2 L384.4,1814.2 L386.6,1813.1 L388.8,1812.7 L391.0,1812.3 L393.2,1812.0 L395.4,1811.7 L397.6,1811.5 L399.8,1811.3 L402.0,1811.4 L404.2,1811.6 L406.4,1811.5 L408.6,1811.2 L410.8,1811.9 L413.0,1812.7 L415.2,1812.2 L417.4,1811.4 L419.6,1811.2 L421.8,1811.2 L424.0,1810.8 L426.2,1810.2 L428.4,1810.6 L430.6,1811.3 L432.8,1811.1 L435.0,1810.5 L437.2,1810.6 L439.4,1811.0 L441.6,1811.6 L443.8,1812.3 L446.0,1812.2 L448.2,1811.6 L450.4,1811.4 L452.6,1811.4 L454.8,1811.2 L457.0,1811.0 L459.2,1810.7 L461.4,1810.3 L463.6,1809.9 L465.8,1809.6 L468.0,1809.2 L470.2,1808.8 L472.4,1808.7 L474.6,1809.0 L476.8,1808.3 L479.0,1806.5 L481.2,1806.0 L483.4,1806.7 L485.6,1806.2 L487.8,1804.2 L490.0,1802.1 L492.2,1799.7 L494.4,1797.1 L496.6,1794.2 L498.8,1789.9 L501.0,1783.4 L503.2,1774.3 L505.4,1761.2 L507.6,1742.1 L509.8,1715.5 L512.0,1683.2 L514.2,1650.1 L516.4,1624.9 L518.6,1620.1 L520.8,1639.7 L523.0,1672.0 L525.2,1705.0 L527.4,1733.9 L529.6,1755.6 L531.8,1769.7 L534.0,1779.7 L536.2,1787.9 L538.4,1793.9 L540.6,1798.0 L542.8,1801.1 L545.0,1802.8 L547.2,1803.9 L549.4,1803.9 L551.6,1803.8 L553.8,1805.0 L556.0,1806.2 L558.2,1808.4 L560.4,1810.4 L562.6,1809.9 L564.8,1809.4 L567.0,1809.5 L569.2,1809.6 L571.4,1810.5 L573.6,1811.4 L575.8,1812.5 L578.0,1813.5 L580.2,1813.0 L582.4,1812.4 L584.6,1811.7 L586.8,1811.1 L589.0,1811.3 L591.2,1811.5 L593.4,1811.8 L595.6,1812.0 L597.8,1811.4 L600.0,1810.7 L602.2,1810.4 L604.4,1810.1 L606.6,1810.7 L608.8,1811.5 L611.0,1811.1 L613.2,1810.5 L615.4,1810.9 L617.6,1811.5 L619.8,1811.7 L622.0,1811.9 L624.2,1813.0 L626.4,1814.5 L628.6,1813.4 L630.8,1811.4 L633.0,1811.1 L635.2,1811.6 L637.4,1811.7 L639.6,1811.7 L641.8,1812.0 L644.0,1812.4 L646.2,1812.8 L648.4,1813.2 L650.6,1812.7 L652.8,1811.8 L655.0,1811.2 L657.2,1811.0 L659.4,1810.6 L661.6,1810.1 L663.8,1810.1 L666.0,1810.6 L668.2,1811.3 L670.4,1812.2 L672.6,1812.5 L674.8,1812.2 L677.0,1811.7 L679.2,1811.0 L681.4,1810.8 L683.6,1811.2 L685.8,1811.5 L688.0,1811.8 L690.2,1812.1 L692.4,1812.3 L694.6,1812.2 L696.8,1811.5 L699.0,1811.1 L701.2,1811.3 L703.4,1811.1 L705.6,1810.0 L707.8,1809.4 L710.0,1809.8 L712.2,1810.6 L714.4,1812.3 L716.6,1812.9 L718.8,1810.4 L721.0,1808.8 L723.2,1809.9 L725.4,1810.9 L727.6,1811.2 L729.8,1811.3 L732.0,1810.8 L734.2,1810.3 L736.4,1809.9 L738.6,1809.6 L740.8,1810.0 L743.0,1810.2 L745.2,1810.1 L747.4,1809.9 L749.6,1809.6 L751.8,1809.1 L754.0,1807.6 L756.2,1806.2 L758.4,1806.9 L760.6,1807.3 L762.8,1806.2 L765.0,1804.9 L767.2,1804.1 L769.4,1803.0 L771.6,1801.8 L773.8,1800.1 L776.0,1797.4 L778.2,1793.3 L780.4,1786.9 L782.6,1777.1 L784.8,1761.5 L787.0,1739.9 L789.2,1713.5 L791.4,1683.9 L793.6,1659.2 L795.8,1653.7 L798.0,1669.6 L800.2,1697.0 L802.4,1725.3 L804.6,1749.3 L806.8,1766.6 L809.0,1778.7 L811.2,1787.4 L813.4,1793.5 L815.6,1798.2 L817.8,1801.9 L820.0,1803.2 L822.2,1803.5 L824.4,1805.2 L826.6,1807.3 L828.8,1808.2 L831.0,1808.4 L833.2,1809.0 L835.4,1809.6 L837.6,1809.4 L839.8,1808.9 L842.0,1809.1 L844.2,1809.9 L846.4,1810.6 L848.6,1811.3 L850.8,1811.9 L853.0,1812.5 L855.2,1812.7 L857.4,1812.7 L859.6,1812.2 L861.8,1811.3 L864.0,1810.7 L866.2,1810.3 L868.4,1809.6 L870.6,1808.6 L872.8,1807.9 L875.0,1807.4 L877.2,1805.8 L879.4,1802.7 L881.6,1798.8 L883.8,1794.1 L886.0,1787.9 L888.2,1780.2 L890.4,1770.7 L892.6,1759.8 L894.8,1750.4 L897.0,1744.7 L899.2,1744.7 L901.4,1750.6 L903.6,1759.4 L905.8,1768.7 L908.0,1777.8 L910.2,1786.1 L912.4,1793.1 L914.6,1799.7 L916.8,1804.3 L919.0,1806.0 L921.2,1806.9 L923.4,1807.0 L925.6,1807.2 L927.8,1809.1 L930.0,1810.8 L932.2,1811.5 L934.4,1812.0 L936.6,1811.2 L938.8,1810.4 L941.0,1810.4 L943.2,1810.4 L945.4,1810.7 L947.6,1811.1 L949.8,1811.6 L952.0,1812.0 L954.2,1812.3 L956.4,1812.6 L958.6,1813.0 L960.8,1813.4 L963.0,1813.5 L965.2,1813.5 L967.4,1813.5 L969.6,1813.5 L971.8,1813.6 L974.0,1813.8 L976.2,1813.3 L978.4,1812.9 L980.6,1811.5 L982.8,1810.1 L985.0,1810.8 L987.2,1811.6 L989.4,1812.0 L991.6,1812.2 L993.8,1811.8 L996.0,1811.3 L998.2,1811.9 L1000.4,1812.6 L1002.6,1812.0 L1004.8,1811.1 L1007.0,1810.6 L1009.2,1810.1 L1011.4,1811.0 L1013.6,1812.4 L1015.8,1812.2 L1018.0,1811.5 L1020.2,1810.8 L1022.4,1810.2 L1024.6,1810.1 L1026.8,1810.0 L1029.0,1809.6 L1031.2,1808.8 L1033.4,1807.5 L1035.6,1805.8 L1037.8,1802.8 L1040.0,1798.9 L1042.2,1796.5 L1044.4,1794.6 L1046.6,1791.7 L1048.8,1787.9 L1051.0,1783.4 L1053.2,1778.4 L1055.4,1773.8 L1057.6,1769.9 L1059.8,1766.4 L1062.0,1763.7 L1064.2,1761.5 L1066.4,1760.1 L1068.6,1761.9 L1070.8,1766.8 L1073.0,1774.1 L1075.2,1783.0 L1077.4,1789.9 L1079.6,1793.9 L1081.8,1797.3 L1084.0,1800.3 L1086.2,1803.0 L1088.4,1805.8 L1090.6,1807.8 L1092.8,1808.9 L1095.0,1809.4 L1097.2,1809.1 L1099.4,1809.3 L1101.6,1810.5 L1103.8,1811.2 L1106.0,1810.6 L1108.2,1810.1 L1110.4,1809.9 L1112.6,1810.0 L1114.8,1810.8 L1117.0,1811.6 L1119.2,1812.0 L1121.4,1812.2 L1123.6,1811.4 L1125.8,1810.8 L1128.0,1811.5 L1130.2,1812.0 L1132.4,1811.8 L1134.6,1811.8 L1136.8,1813.8 L1139.0,1815.2 L1141.2,1812.9 L1143.4,1811.0 L1145.6,1812.4 L1147.8,1813.6 L1150.0,1812.7 L1152.2,1811.8 L1154.4,1811.8 L1156.6,1811.8 L1158.8,1812.4 L1161.0,1812.9 L1163.2,1813.0 L1165.4,1813.1 L1167.6,1813.4 L1169.8,1813.6 L1172.0,1813.1 L1174.2,1812.5 L1176.4,1811.9 L1178.6,1811.2 L1180.8,1811.2 L1183.0,1811.2 L1185.2,1811.7 L1187.4,1812.3 L1189.6,1812.2 L1191.8,1811.9 L1194.0,1811.8 L1196.2,1811.7 L1198.4,1810.4 L1200.6,1808.9 L1202.8,1808.2 L1205.0,1807.8 L1207.2,1807.7 L1209.4,1807.9 L1211.6,1807.7 L1213.8,1807.6 L1216.0,1807.5 L1218.2,1807.3 L1220.4,1808.0 L1222.6,1808.9 L1224.8,1809.4 L1227.0,1809.6 L1229.2,1811.1 L1231.4,1813.2 L1233.6,1813.0 L1235.8,1811.5 L1238.0,1811.7 L1240.2,1813.0 L1242.4,1813.4 L1244.6,1812.9 L1246.8,1813.2 L1249.0,1813.9 L1251.2,1814.0 L1253.4,1813.5 L1255.6,1812.9 L1257.8,1812.2 L1260.0,1811.7 L1262.2,1811.6 L1264.4,1811.6 L1266.6,1811.6 L1268.8,1811.6 L1271.0,1811.3 L1273.2,1810.6 L1275.4,1809.5 L1277.6,1808.6 L1279.8,1808.1 L1282.0,1807.8 L1284.2,1808.0 L1286.4,1807.4 L1288.6,1805.2 L1290.8,1804.5 L1293.0,1806.5 L1295.2,1807.9 L1297.4,1808.0 L1299.6,1808.6 L1301.8,1809.9 L1304.0,1811.1 L1306.2,1811.9 L1308.4,1812.3 L1310.6,1811.9 L1312.8,1811.6 L1315.0,1812.2 L1317.2,1812.3 L1319.4,1810.8 L1321.6,1809.9 L1323.8,1811.6 L1326.0,1812.8 L1328.2,1811.7 L1330.4,1810.8 L1332.6,1811.5 L1334.8,1812.1 L1337.0,1811.8 L1339.2,1811.3 L1341.4,1809.4 L1343.6,1807.7 L1345.8,1808.8 L1348.0,1809.8 L1350.2,1810.3 L1352.4,1810.7 L1354.6,1811.4 L1356.8,1812.0 L1359.0,1810.9 L1361.2,1809.8 L1363.4,1809.4 L1365.6,1808.9 L1367.8,1807.3 L1370.0,1805.6 L1372.2,1806.5 L1374.4,1807.3 L1376.6,1806.5 L1378.8,1805.2 L1381.0,1802.1 L1383.2,1798.1 L1385.4,1793.8 L1387.6,1787.7 L1389.8,1778.2 L1392.0,1764.3 L1394.2,1747.4 L1396.4,1726.5 L1398.6,1706.1 L1400.8,1698.5 L1403.0,1708.4 L1405.2,1728.3 L1407.4,1748.5 L1409.6,1763.9 L1411.8,1773.1 L1414.0,1777.0 L1416.2,1776.2 L1418.4,1770.8 L1420.6,1762.5 L1422.8,1750.0 L1425.0,1732.4 L1427.2,1717.4 L1429.4,1717.3 L1431.6,1732.3 L1433.8,1751.7 L1436.0,1768.6 L1438.2,1781.4 L1440.4,1790.4 L1442.6,1796.2 L1444.8,1799.9 L1447.0,1802.4 L1449.2,1804.4 L1451.4,1805.5 L1453.6,1805.9 L1455.8,1806.3 L1458.0,1806.6 L1460.2,1807.5 L1462.4,1808.8 L1464.6,1809.4 L1466.8,1809.3 L1469.0,1809.1 L1471.2,1808.9 L1473.4,1808.9 L1475.6,1809.1 L1477.8,1809.4 L1480.0,1810.0 L1482.2,1810.1 L1484.4,1809.3 L1486.6,1808.8 L1488.8,1809.1 L1491.0,1809.3 L1493.2,1809.0 L1495.4,1809.1 L1497.6,1810.0 L1499.8,1810.5 L1502.0,1810.0 L1504.2,1809.4 L1506.4,1809.3 L1508.6,1808.1 L1510.8,1804.3 L1513.0,1801.1 L1515.2,1800.4 L1517.4,1800.3 L1519.6,1801.5 L1521.8,1803.1 L1524.0,1803.7 L1526.2,1804.7 L1528.4,1806.2 L1530.6,1807.6 L1532.8,1810.1 L1535.0,1812.0 L1537.2,1811.3 L1539.4,1810.4 L1541.6,1810.2 L1543.8,1809.8 L1546.0,1809.8 L1548.2,1809.8 L1550.4,1811.0 L1552.6,1812.1 L1554.8,1812.1 L1557.0,1812.1 L1559.2,1811.1 L1561.4,1810.0 L1563.6,1810.2 L1565.8,1810.5 L1568.0,1811.4 L1570.2,1812.4 L1572.4,1812.6 L1574.6,1812.6 L1576.8,1811.9 L1579.0,1811.2 L1581.2,1811.8 L1583.4,1812.6 L1585.6,1812.7 L1587.8,1812.7 L1590.0,1811.4 L1592.2,1809.9 L1594.4,1810.4 L1596.6,1811.3 L1598.8,1811.9 L1601.0,1812.4 L1603.2,1812.0 L1605.4,1811.4 L1607.6,1810.5 L1609.8,1809.5 L1612.0,1810.0 L1614.2,1811.2 L1616.4,1812.1 L1618.6,1812.7 L1620.8,1813.3 L1623.0,1813.8 L1625.2,1812.4 L1627.4,1810.0 L1629.6,1810.9 L1631.8,1814.0 L1634.0,1813.8 L1636.2,1811.3 L1638.4,1810.9 L1640.6,1812.0 L1642.8,1812.4 L1645.0,1812.0 L1647.2,1811.3 L1649.4,1810.2 L1651.6,1808.7 L1653.8,1807.0 L1656.0,1805.1 L1658.2,1803.4 L1660.4,1803.0 L1662.6,1804.3 L1664.8,1805.2 L1667.0,1805.4 L1669.2,1805.6 L1671.4,1805.6 L1673.6,1807.3 L1675.8,1811.6 L1678.0,1813.9 L1680.2,1813.0 L1682.4,1812.6 L1684.6,1813.5 L1686.8,1813.5 L1689.0,1811.8 L1691.2,1811.1 L1693.4,1812.6 L1695.6,1813.8 L1697.8,1813.9 L1700.0,1814.0 L1702.2,1813.9 L1704.4,1813.7 L1706.6,1812.7 L1708.8,1811.8 L1711.0,1811.0 L1713.2,1810.5 L1715.4,1811.2 L1717.6,1811.5 L1719.8,1810.2 L1722.0,1809.2 L1724.2,1809.5 L1726.4,1809.9 L1728.6,1811.1 L1730.8,1812.0 L1733.0,1811.3 L1735.2,1810.7 L1737.4,1811.3 L1739.6,1811.8 L1741.8,1811.8" fill="none" stroke="#0000ff" stroke-width="9.5" stroke-linejoin="round" stroke-linecap="butt" transform="translate(0,-1.75)"/>
<use href="#cvc" transform="translate(0,3.5)"/>
<path id="cvb" d="M182.0,2031.5 L184.2,2031.0 L186.4,2030.4 L188.6,2029.3 L190.8,2028.3 L193.0,2028.8 L195.2,2029.3 L197.4,2027.9 L199.6,2026.3 L201.8,2026.1 L204.0,2025.9 L206.2,2026.2 L208.4,2026.4 L210.6,2024.7 L212.8,2022.6 L215.0,2022.0 L217.2,2021.5 L219.4,2019.8 L221.6,2017.6 L223.8,2016.3 L226.0,2014.8 L228.2,2012.6 L230.4,2009.1 L232.6,2001.7 L234.8,1990.0 L237.0,1974.0 L239.2,1950.1 L241.4,1914.4 L243.6,1866.4 L245.8,1810.0 L248.0,1755.0 L250.2,1721.2 L252.4,1726.9 L254.6,1769.7 L256.8,1828.1 L259.0,1883.4 L261.2,1928.0 L263.4,1959.8 L265.6,1980.5 L267.8,1993.6 L270.0,2001.8 L272.2,2007.5 L274.4,2012.1 L276.6,2014.8 L278.8,2016.1 L281.0,2017.7 L283.2,2019.5 L285.4,2020.7 L287.6,2021.1 L289.8,2021.4 L292.0,2021.8 L294.2,2022.2 L296.4,2022.7 L298.6,2022.7 L300.8,2022.0 L303.0,2021.7 L305.2,2021.8 L307.4,2021.6 L309.6,2020.7 L311.8,2020.3 L314.0,2021.1 L316.2,2021.3 L318.4,2020.6 L320.6,2020.3 L322.8,2020.9 L325.0,2021.2 L327.2,2020.6 L329.4,2020.2 L331.6,2021.0 L333.8,2021.7 L336.0,2022.1 L338.2,2022.3 L340.4,2021.2 L342.6,2020.5 L344.8,2021.1 L347.0,2021.5 L349.2,2021.6 L351.4,2021.9 L353.6,2023.1 L355.8,2024.3 L358.0,2025.0 L360.2,2025.7 L362.4,2025.3 L364.6,2024.9 L366.8,2024.3 L369.0,2023.7 L371.2,2025.0 L373.4,2026.2 L375.6,2024.5 L377.8,2022.7 L380.0,2024.7 L382.2,2026.8 L384.4,2025.6 L386.6,2024.4 L388.8,2023.1 L391.0,2021.9 L393.2,2025.1 L395.4,2028.7 L397.6,2028.5 L399.8,2028.0 L402.0,2026.5 L404.2,2024.9 L406.4,2025.5 L408.6,2026.4 L410.8,2026.4 L413.0,2026.2 L415.2,2026.4 L417.4,2026.7 L419.6,2026.1 L421.8,2025.1 L424.0,2025.3 L426.2,2025.9 L428.4,2026.6 L430.6,2027.3 L432.8,2027.5 L435.0,2027.3 L437.2,2027.7 L439.4,2028.4 L441.6,2028.1 L443.8,2027.4 L446.0,2028.1 L448.2,2029.5 L450.4,2028.8 L452.6,2026.8 L454.8,2026.3 L457.0,2026.9 L459.2,2026.2 L461.4,2024.7 L463.6,2024.2 L465.8,2024.5 L468.0,2025.4 L470.2,2026.8 L472.4,2026.6 L474.6,2024.8 L476.8,2024.1 L479.0,2024.6 L481.2,2024.3 L483.4,2023.2 L485.6,2021.8 L487.8,2020.1 L490.0,2018.6 L492.2,2017.4 L494.4,2015.5 L496.6,2012.5 L498.8,2008.6 L501.0,2003.0 L503.2,1995.0 L505.4,1983.7 L507.6,1966.6 L509.8,1942.1 L512.0,1909.9 L514.2,1871.8 L516.4,1835.9 L518.6,1817.1 L520.8,1826.2 L523.0,1858.1 L525.2,1896.4 L527.4,1930.5 L529.6,1957.7 L531.8,1978.3 L534.0,1993.1 L536.2,2003.6 L538.4,2010.7 L540.6,2014.0 L542.8,2016.2 L545.0,2018.1 L547.2,2019.5 L549.4,2021.0 L551.6,2022.1 L553.8,2022.7 L556.0,2023.1 L558.2,2023.8 L560.4,2024.4 L562.6,2024.8 L564.8,2025.2 L567.0,2026.0 L569.2,2026.7 L571.4,2027.0 L573.6,2027.2 L575.8,2028.2 L578.0,2029.1 L580.2,2028.6 L582.4,2028.0 L584.6,2028.3 L586.8,2028.5 L589.0,2028.0 L591.2,2027.5 L593.4,2029.2 L595.6,2031.1 L597.8,2030.8 L600.0,2030.1 L602.2,2030.8 L604.4,2031.7 L606.6,2031.3 L608.8,2030.7 L611.0,2031.0 L613.2,2031.5 L615.4,2030.8 L617.6,2029.7 L619.8,2030.0 L622.0,2030.6 L624.2,2031.8 L626.4,2033.1 L628.6,2031.6 L630.8,2029.1 L633.0,2029.5 L635.2,2031.0 L637.4,2031.8 L639.6,2032.1 L641.8,2031.7 L644.0,2030.9 L646.2,2030.8 L648.4,2031.0 L650.6,2031.3 L652.8,2031.6 L655.0,2031.0 L657.2,2029.8 L659.4,2029.7 L661.6,2030.4 L663.8,2030.2 L666.0,2029.4 L668.2,2029.0 L670.4,2029.2 L672.6,2029.2 L674.8,2029.3 L677.0,2029.4 L679.2,2029.7 L681.4,2030.0 L683.6,2030.2 L685.8,2030.3 L688.0,2030.5 L690.2,2030.1 L692.4,2028.9 L694.6,2028.9 L696.8,2031.2 L699.0,2032.3 L701.2,2031.8 L703.4,2031.3 L705.6,2031.0 L707.8,2030.5 L710.0,2029.7 L712.2,2029.3 L714.4,2029.4 L716.6,2029.6 L718.8,2029.9 L721.0,2030.1 L723.2,2030.0 L725.4,2029.5 L727.6,2028.0 L729.8,2027.2 L732.0,2028.7 L734.2,2030.1 L736.4,2031.4 L738.6,2032.0 L740.8,2028.6 L743.0,2026.0 L745.2,2027.7 L747.4,2029.0 L749.6,2028.3 L751.8,2027.6 L754.0,2026.9 L756.2,2026.2 L758.4,2026.6 L760.6,2026.9 L762.8,2024.4 L765.0,2021.9 L767.2,2021.6 L769.4,2021.1 L771.6,2020.1 L773.8,2018.6 L776.0,2014.4 L778.2,2008.7 L780.4,2001.8 L782.6,1991.4 L784.8,1976.4 L787.0,1954.6 L789.2,1924.6 L791.4,1888.4 L793.6,1855.4 L795.8,1840.1 L798.0,1849.5 L800.2,1877.3 L802.4,1912.5 L804.6,1944.4 L806.8,1967.7 L809.0,1983.9 L811.2,1997.0 L813.4,2006.7 L815.6,2012.3 L817.8,2015.9 L820.0,2017.5 L822.2,2018.1 L824.4,2020.6 L826.6,2023.8 L828.8,2024.9 L831.0,2025.1 L833.2,2026.0 L835.4,2027.0 L837.6,2028.6 L839.8,2030.3 L842.0,2030.0 L844.2,2028.5 L846.4,2028.1 L848.6,2028.2 L850.8,2029.3 L853.0,2031.0 L855.2,2031.2 L857.4,2030.2 L859.6,2030.2 L861.8,2031.0 L864.0,2030.7 L866.2,2029.6 L868.4,2028.3 L870.6,2026.8 L872.8,2025.8 L875.0,2025.1 L877.2,2023.9 L879.4,2022.0 L881.6,2018.5 L883.8,2012.8 L886.0,2005.1 L888.2,1995.1 L890.4,1983.7 L892.6,1971.8 L894.8,1960.6 L897.0,1952.2 L899.2,1949.3 L901.4,1952.8 L903.6,1962.0 L905.8,1975.1 L908.0,1987.7 L910.2,1997.1 L912.4,2004.9 L914.6,2011.0 L916.8,2015.7 L919.0,2019.8 L921.2,2022.8 L923.4,2025.3 L925.6,2027.1 L927.8,2027.8 L930.0,2028.3 L932.2,2028.3 L934.4,2028.1 L936.6,2028.1 L938.8,2028.1 L941.0,2028.8 L943.2,2029.3 L945.4,2028.3 L947.6,2027.5 L949.8,2027.8 L952.0,2028.3 L954.2,2029.8 L956.4,2031.1 L958.6,2030.3 L960.8,2029.6 L963.0,2030.2 L965.2,2030.8 L967.4,2031.4 L969.6,2032.0 L971.8,2031.6 L974.0,2031.3 L976.2,2030.9 L978.4,2030.4 L980.6,2031.7 L982.8,2033.1 L985.0,2032.3 L987.2,2031.3 L989.4,2030.5 L991.6,2029.8 L993.8,2030.3 L996.0,2030.9 L998.2,2030.8 L1000.4,2030.5 L1002.6,2029.7 L1004.8,2028.7 L1007.0,2028.9 L1009.2,2029.4 L1011.4,2029.2 L1013.6,2028.9 L1015.8,2027.7 L1018.0,2026.3 L1020.2,2026.5 L1022.4,2027.3 L1024.6,2027.1 L1026.8,2026.5 L1029.0,2025.7 L1031.2,2024.7 L1033.4,2022.9 L1035.6,2020.6 L1037.8,2019.0 L1040.0,2017.5 L1042.2,2015.1 L1044.4,2011.8 L1046.6,2007.8 L1048.8,2003.2 L1051.0,1997.5 L1053.2,1990.8 L1055.4,1985.0 L1057.6,1980.1 L1059.8,1974.2 L1062.0,1968.1 L1064.2,1964.4 L1066.4,1963.5 L1068.6,1965.5 L1070.8,1971.8 L1073.0,1979.5 L1075.2,1987.0 L1077.4,1994.9 L1079.6,2002.7 L1081.8,2009.7 L1084.0,2015.9 L1086.2,2020.0 L1088.4,2021.9 L1090.6,2023.4 L1092.8,2024.8 L1095.0,2026.0 L1097.2,2027.0 L1099.4,2028.0 L1101.6,2028.9 L1103.8,2029.0 L1106.0,2027.1 L1108.2,2026.0 L1110.4,2027.1 L1112.6,2028.0 L1114.8,2028.0 L1117.0,2028.0 L1119.2,2028.1 L1121.4,2028.2 L1123.6,2028.4 L1125.8,2028.6 L1128.0,2028.7 L1130.2,2028.9 L1132.4,2029.7 L1134.6,2030.3 L1136.8,2029.5 L1139.0,2028.9 L1141.2,2029.7 L1143.4,2030.3 L1145.6,2030.5 L1147.8,2030.7 L1150.0,2030.0 L1152.2,2029.3 L1154.4,2029.9 L1156.6,2030.5 L1158.8,2031.5 L1161.0,2032.5 L1163.2,2031.7 L1165.4,2030.8 L1167.6,2030.2 L1169.8,2029.6 L1172.0,2029.9 L1174.2,2030.3 L1176.4,2029.8 L1178.6,2029.3 L1180.8,2030.0 L1183.0,2030.8 L1185.2,2031.2 L1187.4,2031.6 L1189.6,2030.7 L1191.8,2029.6 L1194.0,2029.8 L1196.2,2030.2 L1198.4,2031.0 L1200.6,2031.9 L1202.8,2031.2 L1205.0,2030.1 L1207.2,2030.3 L1209.4,2030.7 L1211.6,2030.2 L1213.8,2029.4 L1216.0,2029.3 L1218.2,2029.5 L1220.4,2029.6 L1222.6,2029.8 L1224.8,2031.1 L1227.0,2032.8 L1229.2,2032.3 L1231.4,2030.7 L1233.6,2030.0 L1235.8,2029.9 L1238.0,2029.9 L1240.2,2029.8 L1242.4,2030.0 L1244.6,2030.2 L1246.8,2030.6 L1249.0,2031.2 L1251.2,2031.2 L1253.4,2030.9 L1255.6,2031.4 L1257.8,2032.6 L1260.0,2032.6 L1262.2,2031.4 L1264.4,2031.2 L1266.6,2031.9 L1268.8,2032.0 L1271.0,2031.3 L1273.2,2030.9 L1275.4,2031.1 L1277.6,2030.7 L1279.8,2029.4 L1282.0,2028.9 L1284.2,2029.7 L1286.4,2030.2 L1288.6,2030.2 L1290.8,2030.2 L1293.0,2030.1 L1295.2,2029.6 L1297.4,2028.3 L1299.6,2028.0 L1301.8,2030.0 L1304.0,2031.1 L1306.2,2030.3 L1308.4,2029.6 L1310.6,2029.6 L1312.8,2029.5 L1315.0,2029.6 L1317.2,2029.7 L1319.4,2029.6 L1321.6,2029.7 L1323.8,2030.0 L1326.0,2030.1 L1328.2,2029.0 L1330.4,2028.0 L1332.6,2028.2 L1334.8,2028.4 L1337.0,2029.1 L1339.2,2029.7 L1341.4,2029.5 L1343.6,2029.2 L1345.8,2028.7 L1348.0,2028.2 L1350.2,2027.9 L1352.4,2027.6 L1354.6,2027.2 L1356.8,2026.7 L1359.0,2026.9 L1361.2,2027.0 L1363.4,2027.4 L1365.6,2027.6 L1367.8,2025.6 L1370.0,2023.4 L1372.2,2023.9 L1374.4,2024.4 L1376.6,2022.7 L1378.8,2020.4 L1381.0,2017.1 L1383.2,2012.8 L1385.4,2008.4 L1387.6,2002.0 L1389.8,1990.1 L1392.0,1972.7 L1394.2,1950.2 L1396.4,1922.2 L1398.6,1895.8 L1400.8,1885.4 L1403.0,1899.2 L1405.2,1926.0 L1407.4,1951.5 L1409.6,1970.5 L1411.8,1982.7 L1414.0,1989.1 L1416.2,1991.1 L1418.4,1988.8 L1420.6,1980.3 L1422.8,1965.6 L1425.0,1946.7 L1427.2,1925.0 L1429.4,1906.5 L1431.6,1905.1 L1433.8,1923.9 L1436.0,1949.7 L1438.2,1972.2 L1440.4,1988.9 L1442.6,2000.2 L1444.8,2007.5 L1447.0,2012.4 L1449.2,2015.9 L1451.4,2018.5 L1453.6,2020.7 L1455.8,2022.7 L1458.0,2024.5 L1460.2,2025.9 L1462.4,2027.1 L1464.6,2027.9 L1466.8,2028.4 L1469.0,2028.4 L1471.2,2027.8 L1473.4,2027.5 L1475.6,2027.9 L1477.8,2028.1 L1480.0,2028.2 L1482.2,2028.6 L1484.4,2029.6 L1486.6,2029.7 L1488.8,2028.1 L1491.0,2027.7 L1493.2,2029.7 L1495.4,2030.8 L1497.6,2029.4 L1499.8,2028.2 L1502.0,2027.4 L1504.2,2026.5 L1506.4,2025.9 L1508.6,2025.0 L1510.8,2023.5 L1513.0,2021.8 L1515.2,2019.5 L1517.4,2017.8 L1519.6,2017.8 L1521.8,2018.6 L1524.0,2019.4 L1526.2,2020.9 L1528.4,2023.6 L1530.6,2026.2 L1532.8,2027.9 L1535.0,2029.1 L1537.2,2029.2 L1539.4,2029.1 L1541.6,2030.6 L1543.8,2031.7 L1546.0,2031.1 L1548.2,2030.4 L1550.4,2030.5 L1552.6,2030.5 L1554.8,2029.9 L1557.0,2029.3 L1559.2,2029.7 L1561.4,2030.2 L1563.6,2030.9 L1565.8,2031.6 L1568.0,2030.4 L1570.2,2029.1 L1572.4,2030.2 L1574.6,2031.4 L1576.8,2031.4 L1579.0,2031.3 L1581.2,2031.2 L1583.4,2031.2 L1585.6,2029.8 L1587.8,2028.3 L1590.0,2029.1 L1592.2,2030.4 L1594.4,2031.1 L1596.6,2031.6 L1598.8,2031.0 L1601.0,2030.1 L1603.2,2030.3 L1605.4,2030.9 L1607.6,2029.9 L1609.8,2028.3 L1612.0,2029.2 L1614.2,2031.1 L1616.4,2031.2 L1618.6,2030.3 L1620.8,2030.6 L1623.0,2031.6 L1625.2,2030.8 L1627.4,2029.0 L1629.6,2029.3 L1631.8,2030.9 L1634.0,2031.1 L1636.2,2030.3 L1638.4,2030.2 L1640.6,2030.4 L1642.8,2029.4 L1645.0,2027.3 L1647.2,2025.6 L1649.4,2024.1 L1651.6,2023.3 L1653.8,2023.2 L1656.0,2021.4 L1658.2,2018.3 L1660.4,2016.9 L1662.6,2017.7 L1664.8,2019.3 L1667.0,2021.4 L1669.2,2023.4 L1671.4,2024.7 L1673.6,2026.5 L1675.8,2029.1 L1678.0,2031.0 L1680.2,2032.0 L1682.4,2032.0 L1684.6,2030.7 L1686.8,2029.6 L1689.0,2029.0 L1691.2,2029.2 L1693.4,2031.1 L1695.6,2032.4 L1697.8,2032.3 L1700.0,2032.2 L1702.2,2031.8 L1704.4,2031.5 L1706.6,2031.3 L1708.8,2030.6 L1711.0,2028.5 L1713.2,2026.5 L1715.4,2025.8 L1717.6,2024.8 L1719.8,2022.9 L1722.0,2021.4 L1724.2,2021.2 L1726.4,2021.7 L1728.6,2024.2 L1730.8,2026.7 L1733.0,2026.9 L1735.2,2027.2 L1737.4,2030.1 L1739.6,2032.7 L1741.8,2031.8" fill="none" stroke="#000000" stroke-width="9.5" stroke-linejoin="round" stroke-linecap="butt" transform="translate(0,-1.75)"/>
<use href="#cvb" transform="translate(0,3.5)"/>
<path id="cva" d="M182.0,2206.2 L184.2,2206.5 L186.4,2206.8 L188.6,2206.8 L190.8,2206.8 L193.0,2205.3 L195.2,2203.8 L197.4,2202.0 L199.6,2200.2 L201.8,2200.2 L204.0,2200.4 L206.2,2200.2 L208.4,2199.9 L210.6,2198.0 L212.8,2195.7 L215.0,2194.2 L217.2,2192.7 L219.4,2192.1 L221.6,2191.6 L223.8,2189.5 L226.0,2186.7 L228.2,2183.3 L230.4,2178.9 L232.6,2174.1 L234.8,2167.2 L237.0,2155.8 L239.2,2138.0 L241.4,2112.4 L243.6,2076.9 L245.8,2031.4 L248.0,1981.4 L250.2,1940.7 L252.4,1927.8 L254.6,1949.9 L256.8,1994.3 L259.0,2042.2 L261.2,2083.3 L263.4,2116.1 L265.6,2140.2 L267.8,2155.8 L270.0,2165.5 L272.2,2171.4 L274.4,2174.9 L276.6,2177.6 L278.8,2179.8 L281.0,2180.8 L283.2,2180.9 L285.4,2181.0 L287.6,2181.3 L289.8,2182.1 L292.0,2183.7 L294.2,2184.0 L296.4,2182.9 L298.6,2182.0 L300.8,2181.5 L303.0,2182.1 L305.2,2184.2 L307.4,2185.2 L309.6,2184.2 L311.8,2183.6 L314.0,2183.9 L316.2,2183.8 L318.4,2183.1 L320.6,2182.6 L322.8,2182.7 L325.0,2182.7 L327.2,2182.8 L329.4,2182.9 L331.6,2183.4 L333.8,2183.8 L336.0,2184.2 L338.2,2184.1 L340.4,2182.3 L342.6,2181.2 L344.8,2183.1 L347.0,2184.4 L349.2,2183.1 L351.4,2181.9 L353.6,2181.9 L355.8,2182.0 L358.0,2183.0 L360.2,2183.9 L362.4,2183.3 L364.6,2182.7 L366.8,2181.6 L369.0,2180.7 L371.2,2182.8 L373.4,2184.7 L375.6,2182.9 L377.8,2181.0 L380.0,2181.6 L382.2,2182.2 L384.4,2182.0 L386.6,2181.9 L388.8,2182.5 L391.0,2183.1 L393.2,2181.9 L395.4,2180.6 L397.6,2181.2 L399.8,2181.8 L402.0,2180.5 L404.2,2179.1 L406.4,2179.6 L408.6,2180.5 L410.8,2179.3 L413.0,2177.8 L415.2,2177.4 L417.4,2177.3 L419.6,2178.2 L421.8,2179.3 L424.0,2178.5 L426.2,2177.1 L428.4,2176.4 L430.6,2175.9 L432.8,2176.5 L435.0,2177.5 L437.2,2176.6 L439.4,2175.1 L441.6,2173.8 L443.8,2172.6 L446.0,2172.6 L448.2,2173.2 L450.4,2172.4 L452.6,2170.7 L454.8,2170.7 L457.0,2171.8 L459.2,2172.0 L461.4,2171.6 L463.6,2170.4 L465.8,2168.8 L468.0,2167.7 L470.2,2167.1 L472.4,2166.9 L474.6,2166.9 L476.8,2166.6 L479.0,2165.9 L481.2,2164.8 L483.4,2163.4 L485.6,2162.6 L487.8,2162.6 L490.0,2161.2 L492.2,2158.0 L494.4,2155.6 L496.6,2154.3 L498.8,2151.8 L501.0,2147.5 L503.2,2141.2 L505.4,2132.1 L507.6,2119.1 L509.8,2101.2 L512.0,2077.4 L514.2,2048.5 L516.4,2021.9 L518.6,2009.1 L520.8,2016.8 L523.0,2039.6 L525.2,2067.6 L527.4,2093.0 L529.6,2113.1 L531.8,2127.8 L534.0,2138.1 L536.2,2145.6 L538.4,2151.0 L540.6,2155.6 L542.8,2159.1 L545.0,2160.4 L547.2,2161.5 L549.4,2163.7 L551.6,2165.6 L553.8,2167.3 L556.0,2168.9 L558.2,2169.7 L560.4,2170.5 L562.6,2171.6 L564.8,2172.5 L567.0,2171.8 L569.2,2171.2 L571.4,2171.1 L573.6,2171.1 L575.8,2172.8 L578.0,2174.6 L580.2,2174.6 L582.4,2174.5 L584.6,2175.3 L586.8,2176.2 L589.0,2175.9 L591.2,2175.5 L593.4,2176.5 L595.6,2177.6 L597.8,2177.8 L600.0,2177.9 L602.2,2178.1 L604.4,2178.3 L606.6,2178.5 L608.8,2178.7 L611.0,2178.9 L613.2,2179.1 L615.4,2179.3 L617.6,2179.5 L619.8,2179.7 L622.0,2180.0 L624.2,2180.7 L626.4,2181.4 L628.6,2181.1 L630.8,2180.4 L633.0,2181.4 L635.2,2183.2 L637.4,2183.1 L639.6,2182.2 L641.8,2182.5 L644.0,2183.5 L646.2,2183.6 L648.4,2183.1 L650.6,2183.1 L652.8,2183.2 L655.0,2184.3 L657.2,2186.0 L659.4,2186.1 L661.6,2185.0 L663.8,2184.3 L666.0,2184.0 L668.2,2184.2 L670.4,2184.9 L672.6,2185.5 L674.8,2186.1 L677.0,2187.3 L679.2,2189.2 L681.4,2189.8 L683.6,2188.9 L685.8,2188.7 L688.0,2189.5 L690.2,2189.5 L692.4,2188.6 L694.6,2188.5 L696.8,2189.7 L699.0,2190.6 L701.2,2191.1 L703.4,2191.8 L705.6,2192.8 L707.8,2193.1 L710.0,2191.7 L712.2,2191.1 L714.4,2192.3 L716.6,2193.1 L718.8,2193.2 L721.0,2193.1 L723.2,2192.5 L725.4,2192.2 L727.6,2193.1 L729.8,2193.8 L732.0,2193.9 L734.2,2193.8 L736.4,2192.6 L738.6,2192.0 L740.8,2194.1 L743.0,2195.8 L745.2,2195.9 L747.4,2195.9 L749.6,2195.4 L751.8,2194.6 L754.0,2193.9 L756.2,2193.2 L758.4,2194.7 L760.6,2196.0 L762.8,2194.6 L765.0,2193.2 L767.2,2192.8 L769.4,2192.2 L771.6,2190.9 L773.8,2189.2 L776.0,2185.2 L778.2,2180.0 L780.4,2174.8 L782.6,2166.5 L784.8,2152.1 L787.0,2131.4 L789.2,2104.4 L791.4,2072.0 L793.6,2041.0 L795.8,2026.0 L798.0,2035.9 L800.2,2063.0 L802.4,2095.3 L804.6,2124.3 L806.8,2146.1 L809.0,2161.8 L811.2,2173.0 L813.4,2180.6 L815.6,2186.0 L817.8,2189.8 L820.0,2192.9 L822.2,2195.6 L824.4,2196.9 L826.6,2197.5 L828.8,2198.7 L831.0,2200.0 L833.2,2201.1 L835.4,2202.1 L837.6,2202.6 L839.8,2202.8 L842.0,2203.3 L844.2,2204.0 L846.4,2204.2 L848.6,2204.1 L850.8,2205.1 L853.0,2206.8 L855.2,2207.3 L857.4,2206.8 L859.6,2206.2 L861.8,2205.4 L864.0,2204.6 L866.2,2203.8 L868.4,2203.8 L870.6,2204.4 L872.8,2203.5 L875.0,2200.8 L877.2,2197.8 L879.4,2194.2 L881.6,2189.0 L883.8,2181.6 L886.0,2170.6 L888.2,2155.5 L890.4,2136.6 L892.6,2115.7 L894.8,2095.6 L897.0,2082.3 L899.2,2083.5 L901.4,2099.4 L903.6,2120.8 L905.8,2140.4 L908.0,2157.9 L910.2,2173.5 L912.4,2184.5 L914.6,2190.8 L916.8,2195.3 L919.0,2200.4 L921.2,2203.7 L923.4,2204.0 L925.6,2204.2 L927.8,2205.4 L930.0,2206.5 L932.2,2207.8 L934.4,2209.0 L936.6,2209.8 L938.8,2210.2 L941.0,2209.1 L943.2,2208.2 L945.4,2209.1 L947.6,2209.8 L949.8,2209.4 L952.0,2209.1 L954.2,2210.4 L956.4,2211.6 L958.6,2211.6 L960.8,2211.7 L963.0,2211.8 L965.2,2211.8 L967.4,2211.8 L969.6,2211.7 L971.8,2212.1 L974.0,2212.4 L976.2,2212.4 L978.4,2212.3 L980.6,2213.2 L982.8,2214.2 L985.0,2214.9 L987.2,2215.7 L989.4,2213.9 L991.6,2211.7 L993.8,2212.4 L996.0,2213.5 L998.2,2213.4 L1000.4,2213.2 L1002.6,2213.5 L1004.8,2214.0 L1007.0,2213.3 L1009.2,2212.2 L1011.4,2212.3 L1013.6,2212.6 L1015.8,2212.1 L1018.0,2211.3 L1020.2,2211.8 L1022.4,2212.6 L1024.6,2212.4 L1026.8,2211.6 L1029.0,2210.9 L1031.2,2210.3 L1033.4,2209.8 L1035.6,2209.4 L1037.8,2208.3 L1040.0,2206.5 L1042.2,2204.0 L1044.4,2200.6 L1046.6,2197.5 L1048.8,2194.0 L1051.0,2188.0 L1053.2,2179.5 L1055.4,2169.1 L1057.6,2157.0 L1059.8,2144.5 L1062.0,2133.0 L1064.2,2123.8 L1066.4,2119.3 L1068.6,2120.8 L1070.8,2128.3 L1073.0,2140.6 L1075.2,2154.7 L1077.4,2168.4 L1079.6,2180.9 L1081.8,2190.4 L1084.0,2196.9 L1086.2,2201.1 L1088.4,2203.0 L1090.6,2204.3 L1092.8,2205.6 L1095.0,2206.6 L1097.2,2207.8 L1099.4,2208.7 L1101.6,2209.3 L1103.8,2209.6 L1106.0,2209.2 L1108.2,2209.3 L1110.4,2210.6 L1112.6,2211.4 L1114.8,2210.9 L1117.0,2210.7 L1119.2,2211.1 L1121.4,2211.7 L1123.6,2213.4 L1125.8,2214.6 L1128.0,2213.9 L1130.2,2213.4 L1132.4,2214.0 L1134.6,2214.7 L1136.8,2215.4 L1139.0,2216.1 L1141.2,2216.4 L1143.4,2216.7 L1145.6,2216.2 L1147.8,2215.7 L1150.0,2216.2 L1152.2,2216.6 L1154.4,2216.3 L1156.6,2215.9 L1158.8,2217.8 L1161.0,2219.6 L1163.2,2219.1 L1165.4,2218.5 L1167.6,2217.6 L1169.8,2216.5 L1172.0,2217.1 L1174.2,2217.8 L1176.4,2218.1 L1178.6,2218.4 L1180.8,2217.9 L1183.0,2217.3 L1185.2,2217.4 L1187.4,2217.5 L1189.6,2216.4 L1191.8,2215.0 L1194.0,2212.8 L1196.2,2210.4 L1198.4,2209.2 L1200.6,2208.5 L1202.8,2207.2 L1205.0,2206.0 L1207.2,2206.7 L1209.4,2208.1 L1211.6,2209.3 L1213.8,2210.4 L1216.0,2213.0 L1218.2,2216.1 L1220.4,2216.9 L1222.6,2216.7 L1224.8,2216.5 L1227.0,2216.2 L1229.2,2217.4 L1231.4,2219.1 L1233.6,2220.5 L1235.8,2221.5 L1238.0,2221.6 L1240.2,2221.1 L1242.4,2221.1 L1244.6,2221.5 L1246.8,2221.8 L1249.0,2222.0 L1251.2,2222.1 L1253.4,2222.2 L1255.6,2221.8 L1257.8,2220.9 L1260.0,2219.7 L1262.2,2218.3 L1264.4,2217.4 L1266.6,2217.2 L1268.8,2215.9 L1271.0,2213.6 L1273.2,2211.6 L1275.4,2210.2 L1277.6,2208.8 L1279.8,2207.4 L1282.0,2206.7 L1284.2,2207.2 L1286.4,2208.3 L1288.6,2210.2 L1290.8,2211.5 L1293.0,2211.5 L1295.2,2212.2 L1297.4,2214.6 L1299.6,2216.7 L1301.8,2218.4 L1304.0,2219.5 L1306.2,2219.6 L1308.4,2219.8 L1310.6,2220.7 L1312.8,2221.2 L1315.0,2220.5 L1317.2,2220.3 L1319.4,2222.0 L1321.6,2223.3 L1323.8,2223.2 L1326.0,2222.9 L1328.2,2222.3 L1330.4,2221.6 L1332.6,2220.3 L1334.8,2219.1 L1337.0,2219.5 L1339.2,2219.9 L1341.4,2221.1 L1343.6,2222.2 L1345.8,2222.5 L1348.0,2222.8 L1350.2,2221.7 L1352.4,2220.6 L1354.6,2221.0 L1356.8,2221.3 L1359.0,2219.8 L1361.2,2218.3 L1363.4,2218.2 L1365.6,2218.0 L1367.8,2217.6 L1370.0,2217.1 L1372.2,2216.5 L1374.4,2215.8 L1376.6,2213.5 L1378.8,2210.6 L1381.0,2209.6 L1383.2,2208.1 L1385.4,2204.0 L1387.6,2197.6 L1389.8,2186.4 L1392.0,2171.0 L1394.2,2152.8 L1396.4,2134.8 L1398.6,2126.6 L1400.8,2134.3 L1403.0,2150.3 L1405.2,2166.3 L1407.4,2177.9 L1409.6,2185.0 L1411.8,2190.5 L1414.0,2193.4 L1416.2,2191.4 L1418.4,2185.1 L1420.6,2174.6 L1422.8,2159.6 L1425.0,2143.0 L1427.2,2131.0 L1429.4,2130.6 L1431.6,2143.3 L1433.8,2161.2 L1436.0,2177.0 L1438.2,2189.3 L1440.4,2198.3 L1442.6,2203.8 L1444.8,2206.9 L1447.0,2209.4 L1449.2,2211.4 L1451.4,2213.3 L1453.6,2215.1 L1455.8,2216.1 L1458.0,2216.1 L1460.2,2216.4 L1462.4,2216.9 L1464.6,2217.9 L1466.8,2219.5 L1469.0,2220.3 L1471.2,2220.0 L1473.4,2219.8 L1475.6,2219.9 L1477.8,2219.9 L1480.0,2219.8 L1482.2,2220.0 L1484.4,2220.2 L1486.6,2220.6 L1488.8,2221.4 L1491.0,2221.7 L1493.2,2220.9 L1495.4,2220.6 L1497.6,2221.8 L1499.8,2222.0 L1502.0,2219.8 L1504.2,2217.9 L1506.4,2217.5 L1508.6,2216.5 L1510.8,2214.6 L1513.0,2212.9 L1515.2,2212.7 L1517.4,2212.9 L1519.6,2213.7 L1521.8,2215.3 L1524.0,2217.3 L1526.2,2219.3 L1528.4,2219.5 L1530.6,2219.8 L1532.8,2221.4 L1535.0,2222.8 L1537.2,2223.3 L1539.4,2223.6 L1541.6,2223.8 L1543.8,2223.9 L1546.0,2223.9 L1548.2,2223.9 L1550.4,2224.9 L1552.6,2226.1 L1554.8,2225.3 L1557.0,2224.5 L1559.2,2225.9 L1561.4,2227.5 L1563.6,2227.8 L1565.8,2228.1 L1568.0,2228.0 L1570.2,2227.9 L1572.4,2228.0 L1574.6,2228.1 L1576.8,2228.2 L1579.0,2228.2 L1581.2,2230.3 L1583.4,2232.8 L1585.6,2231.7 L1587.8,2229.9 L1590.0,2231.4 L1592.2,2233.5 L1594.4,2233.2 L1596.6,2232.4 L1598.8,2231.6 L1601.0,2230.8 L1603.2,2230.1 L1605.4,2229.4 L1607.6,2230.1 L1609.8,2231.3 L1612.0,2231.8 L1614.2,2232.1 L1616.4,2230.8 L1618.6,2228.9 L1620.8,2228.4 L1623.0,2228.6 L1625.2,2229.1 L1627.4,2229.8 L1629.6,2229.7 L1631.8,2229.0 L1634.0,2229.3 L1636.2,2230.1 L1638.4,2229.4 L1640.6,2227.6 L1642.8,2227.0 L1645.0,2227.5 L1647.2,2227.1 L1649.4,2225.7 L1651.6,2226.0 L1653.8,2227.9 L1656.0,2228.0 L1658.2,2225.9 L1660.4,2224.3 L1662.6,2223.1 L1664.8,2223.0 L1667.0,2224.1 L1669.2,2224.6 L1671.4,2224.4 L1673.6,2224.7 L1675.8,2225.8 L1678.0,2225.9 L1680.2,2224.2 L1682.4,2223.0 L1684.6,2223.0 L1686.8,2223.0 L1689.0,2223.1 L1691.2,2223.5 L1693.4,2224.1 L1695.6,2224.1 L1697.8,2222.8 L1700.0,2221.7 L1702.2,2221.7 L1704.4,2221.2 L1706.6,2219.7 L1708.8,2217.9 L1711.0,2215.8 L1713.2,2213.8 L1715.4,2212.5 L1717.6,2211.6 L1719.8,2210.9 L1722.0,2210.9 L1724.2,2211.1 L1726.4,2212.1 L1728.6,2215.3 L1730.8,2218.2 L1733.0,2218.4 L1735.2,2218.7 L1737.4,2221.8 L1739.6,2224.6 L1741.8,2225.4" fill="none" stroke="#000080" stroke-width="9.5" stroke-linejoin="round" stroke-linecap="butt" transform="translate(0,-1.75)"/>
<use href="#cva" transform="translate(0,3.5)"/>
<path d="M1076.0,433.6 L1106.7,429.1 L1113.4,418.0 L1135.6,410.2 L1142.3,398.0 L1166.7,391.3 L1177.9,373.5 L1193.4,361.3 L1204.5,346.8 L1215.7,329.0 L1224.6,313.5 L1235.7,304.6 L1244.6,286.8 L1253.5,269.0 L1264.6,251.2 L1273.5,237.9 L1282.4,224.5 L1291.3,211.2 L1304.6,204.5 L1315.7,186.7 L1329.1,182.3 L1331.3,178.9 L1349.1,178.9 L1353.5,184.5 L1362.4,189.0 L1371.3,206.7 L1380.2,220.1 L1391.3,231.2 L1398.0,246.8 L1406.7,273.4 L1415.6,293.5 L1428.9,313.5 L1440.0,333.5 L1451.1,349.0 L1464.5,364.6 L1480.0,380.2 L1497.8,391.3 L1509.0,404.7 L1524.5,409.1 L1546.8,415.8 L1560.1,428.0 L1573.4,424.7 L1591.2,436.9 L1609.0,433.5 L1624.6,444.7 L1649.0,444.7 L1666.8,441.3 L1680.2,444.7 L1709.1,446.9 L1713.5,451.3" fill="none" stroke="#008000" stroke-width="4.5" stroke-linejoin="round"/>
<path d="M1076.0,549.0 L1095.6,544.5 L1113.4,540.0 L1126.7,535.6 L1144.5,526.7 L1162.3,524.5 L1171.2,511.2 L1184.5,504.5 L1197.9,488.9 L1211.2,475.6 L1224.6,466.7 L1237.9,453.3 L1249.0,440.0 L1255.7,424.7 L1264.6,406.9 L1273.5,391.3 L1284.6,378.0 L1293.5,362.4 L1302.4,349.0 L1313.5,333.5 L1322.4,315.7 L1329.1,302.4 L1342.4,293.5 L1351.3,286.8 L1362.4,282.3 L1375.8,280.1 L1384.7,284.6 L1393.6,293.5 L1402.4,304.6 L1409.1,317.9 L1415.8,332.5 L1428.9,349.0 L1435.6,360.2 L1437.7,365.2 L1445.6,383.0 L1453.5,402.8 L1461.4,422.6 L1471.3,438.4 L1485.1,452.2 L1497.0,472.0 L1508.8,485.8 L1520.7,497.7 L1532.6,509.5 L1544.4,519.4 L1556.3,525.3 L1569.0,529.0 L1582.3,533.4 L1600.1,534.5 L1609.0,542.3 L1631.3,543.4 L1644.6,550.1 L1655.7,556.7 L1713.5,556.7" fill="none" stroke="#ff00ff" stroke-width="4.5" stroke-linejoin="round"/>
<path d="M1076.0,647.9 L1102.3,644.6 L1126.7,640.1 L1135.6,634.6 L1157.8,633.5 L1164.5,625.7 L1182.3,617.9 L1195.6,612.3 L1206.8,606.8 L1220.1,593.4 L1235.7,582.3 L1249.0,571.2 L1260.1,557.9 L1275.7,542.3 L1286.8,528.9 L1295.7,513.4 L1304.6,495.6 L1313.5,484.5 L1320.2,471.1 L1327.5,459.0 L1335.7,440.2 L1346.9,426.9 L1358.0,415.8 L1366.9,402.4 L1375.8,393.5 L1389.1,380.2 L1417.8,380.2 L1425.8,385.0 L1437.7,404.8 L1449.5,422.6 L1461.4,442.3 L1469.3,458.1 L1481.2,481.9 L1491.0,499.6 L1500.9,515.5 L1512.8,533.2 L1522.7,553.0 L1532.6,566.9 L1544.4,580.7 L1556.3,588.6 L1564.6,597.9 L1575.7,609.0 L1589.0,620.1 L1611.3,620.1 L1624.6,631.2 L1644.6,631.2 L1655.7,637.9 L1673.5,640.1 L1686.9,647.9 L1713.5,647.9" fill="none" stroke="#ff0000" stroke-width="4.5" stroke-linejoin="round"/>
<path d="M1076.0,734.6 L1100.0,732.4 L1126.7,726.9 L1144.5,722.4 L1173.4,720.2 L1182.3,712.4 L1204.5,706.8 L1220.1,699.1 L1237.9,689.0 L1253.5,682.4 L1266.8,673.5 L1280.1,660.1 L1293.5,644.6 L1306.8,633.5 L1318.0,617.9 L1329.1,602.3 L1340.2,584.5 L1351.3,566.8 L1362.4,551.2 L1373.5,537.8 L1382.4,520.1 L1391.3,500.0 L1400.2,488.9 L1408.9,480.0 L1420.0,462.2 L1433.4,457.8 L1453.4,462.2 L1464.5,471.1 L1475.6,484.5 L1482.3,502.3 L1491.2,517.8 L1500.1,535.6 L1509.0,549.0 L1517.9,569.0 L1526.7,586.8 L1535.6,602.3 L1544.5,620.1 L1555.7,635.7 L1566.8,649.0 L1577.9,662.4 L1591.2,671.3 L1604.6,682.4 L1617.9,691.3 L1631.3,695.7 L1649.0,699.1 L1662.4,706.8 L1669.1,715.7 L1689.1,715.7 L1713.5,721.3" fill="none" stroke="#0000ff" stroke-width="4.5" stroke-linejoin="round"/>
<path d="M1076.0,840.0 L1093.4,835.6 L1115.6,837.8 L1140.0,833.4 L1160.1,826.7 L1177.9,824.5 L1186.8,817.8 L1197.9,812.3 L1211.2,806.7 L1229.0,803.4 L1240.1,800.0 L1251.2,791.1 L1262.4,784.5 L1271.3,777.8 L1282.4,771.1 L1293.5,762.4 L1306.8,749.1 L1318.0,733.5 L1326.8,722.4 L1335.7,711.3 L1349.1,698.0 L1360.2,680.2 L1369.1,664.6 L1375.8,649.0 L1389.1,635.7 L1400.2,622.3 L1408.9,600.1 L1420.0,584.5 L1431.1,575.6 L1444.5,562.3 L1466.7,561.2 L1477.8,566.8 L1488.9,575.6 L1497.8,591.2 L1511.2,606.8 L1520.1,622.3 L1529.0,640.1 L1540.1,653.5 L1546.8,673.5 L1555.7,689.1 L1564.6,706.8 L1575.7,722.4 L1589.0,735.8 L1600.1,746.9 L1609.0,760.2 L1622.4,769.1 L1640.2,777.8 L1655.7,788.9 L1669.1,797.8 L1682.4,801.1 L1698.0,808.9 L1714.7,811.6" fill="none" stroke="#000000" stroke-width="4.5" stroke-linejoin="round"/>
<path d="M1076.0,893.4 L1086.7,890.1 L1115.6,889.0 L1142.3,886.8 L1184.5,882.3 L1206.8,877.9 L1231.2,873.4 L1237.9,866.7 L1253.5,863.4 L1269.0,855.6 L1282.4,851.2 L1293.5,844.5 L1304.6,837.8 L1315.7,828.9 L1326.8,820.0 L1338.0,811.1 L1349.1,800.0 L1358.0,786.7 L1366.9,777.8 L1375.8,763.5 L1384.7,749.1 L1398.0,733.5 L1406.9,718.0 L1417.8,700.2 L1428.9,682.4 L1440.0,671.3 L1448.9,657.9 L1460.0,651.3 L1464.5,647.9 L1482.3,647.9 L1489.0,653.5 L1495.6,664.6 L1506.7,680.2 L1515.6,693.5 L1524.5,706.8 L1533.4,722.4 L1540.1,735.8 L1551.2,751.3 L1560.1,766.9 L1571.2,782.5 L1582.3,795.8 L1589.0,802.3 L1600.1,815.6 L1611.3,826.7 L1624.6,835.6 L1642.4,838.9 L1653.5,848.9 L1671.3,853.4 L1684.6,860.1 L1695.8,864.5 L1714.7,863.4" fill="none" stroke="#000080" stroke-width="4.5" stroke-linejoin="round"/>
<rect x="1074" y="45" width="4" height="869" fill="#000"/>
<rect x="1076" y="900.5" width="640" height="4" fill="#666"/>
<rect x="1233.2" y="902" width="4" height="7" fill="#000"/>
<rect x="1392.5" y="902" width="4" height="11" fill="#000"/>
<rect x="1551.4" y="902" width="4" height="7" fill="#000"/>
<rect x="173" y="37" width="1574" height="9" fill="#000"/>
<rect x="173" y="37" width="9" height="2210" fill="#000"/>
<rect x="1738" y="37" width="9" height="2228" fill="#000"/>
<rect x="173" y="2237.5" width="1574" height="9" fill="#000"/>
<rect x="182" y="2237.5" width="1556" height="4.3" fill="#786f6f"/>
<rect x="218.7" y="2246" width="8" height="36.5" fill="#000"/>
<rect x="453.0" y="2246" width="8" height="36.5" fill="#000"/>
<rect x="687.4" y="2246" width="8" height="36.5" fill="#000"/>
<rect x="919.6" y="2246" width="8" height="36.5" fill="#000"/>
<rect x="1154.5" y="2246" width="8" height="36.5" fill="#000"/>
<rect x="1387.5" y="2246" width="8" height="36.5" fill="#000"/>
<rect x="1620.5" y="2246" width="8" height="36.5" fill="#000"/>
<rect x="336.4" y="2246" width="7" height="18" fill="#000"/>
<rect x="570.7" y="2246" width="7" height="18" fill="#000"/>
<rect x="804.0" y="2246" width="7" height="18" fill="#000"/>
<rect x="1037.5" y="2246" width="7" height="18" fill="#000"/>
<rect x="1271.5" y="2246" width="7" height="18" fill="#000"/>
<rect x="1504.5" y="2246" width="7" height="18" fill="#000"/>
<text x="224.7" y="2369" font-size="83" text-anchor="middle" fill="#000" stroke="#fefefe" stroke-width="1.2" textLength="89" lengthAdjust="spacing">10</text>
<text x="455.0" y="2369" font-size="83" text-anchor="middle" fill="#000" stroke="#fefefe" stroke-width="1.2" textLength="96" lengthAdjust="spacing">20</text>
<text x="689.4" y="2369" font-size="83" text-anchor="middle" fill="#000" stroke="#fefefe" stroke-width="1.2" textLength="96" lengthAdjust="spacing">30</text>
<text x="920.9" y="2369" font-size="83" text-anchor="middle" fill="#000" stroke="#fefefe" stroke-width="1.2" textLength="96" lengthAdjust="spacing">40</text>
<text x="1158.5" y="2369" font-size="83" text-anchor="middle" fill="#000" stroke="#fefefe" stroke-width="1.2" textLength="96" lengthAdjust="spacing">50</text>
<text x="1390.2" y="2369" font-size="83" text-anchor="middle" fill="#000" stroke="#fefefe" stroke-width="1.2" textLength="96" lengthAdjust="spacing">60</text>
<text x="1624.8" y="2369" font-size="83" text-anchor="middle" fill="#000" stroke="#fefefe" stroke-width="1.2" textLength="96" lengthAdjust="spacing">70</text>
<text x="813.5" y="2491" font-size="89" fill="#000" stroke="#fefefe" stroke-width="1.2" textLength="366" lengthAdjust="spacingAndGlyphs">20 (deg.)</text>
<text transform="translate(105,1487) rotate(-90)" font-size="89" fill="#000" stroke="#fefefe" stroke-width="1.8" textLength="578" lengthAdjust="spacingAndGlyphs">Intensity (a.u.)</text>
<text x="192.6" y="832" font-size="62" font-weight="bold" fill="#000" textLength="148" lengthAdjust="spacing">(003)</text>
<text x="442.2" y="905" font-size="62" font-weight="bold" fill="#000" textLength="148" lengthAdjust="spacing">(006)</text>
<text x="1324.3" y="1059" font-size="62" font-weight="bold" fill="#000" textLength="152.5" lengthAdjust="spacing">(110)</text>
<text transform="translate(1661.5,1150.0) scale(1.20,1)" font-size="86" font-weight="bold" fill="#008000">f</text>
<text transform="translate(1662.0,1391.0) scale(1.04,1)" font-size="86" font-weight="bold" fill="#ff00ff">e</text>
<text transform="translate(1671.0,1612.9) scale(1.00,1)" font-size="86" font-weight="bold" fill="#ff0000">d</text>
<text transform="translate(1663.0,1795.6) scale(1.00,1)" font-size="86" font-weight="bold" fill="#0000ff">c</text>
<text transform="translate(1659.5,2014.2) scale(0.94,1)" font-size="86" font-weight="bold" fill="#000000">b</text>
<text transform="translate(1653.5,2218.6) scale(0.80,1)" font-size="86" font-weight="bold" fill="#000080">a</text>
<text x="1289" y="154.5" font-size="37" font-weight="bold" fill="#000" textLength="94" lengthAdjust="spacingAndGlyphs">(003)</text>
<text transform="translate(1046.5,596.5) rotate(-90)" font-size="35" font-weight="bold" fill="#000" textLength="244" lengthAdjust="spacingAndGlyphs">Intensity (a.u.)</text>
<text x="1328" y="982" font-size="31" font-weight="bold" fill="#000" textLength="151" lengthAdjust="spacingAndGlyphs">2&#952; (deg.)</text>
<text x="1078.0" y="950" font-size="31" text-anchor="middle" fill="#000">10</text>
<text x="1395.5" y="950" font-size="31" text-anchor="middle" fill="#000">11</text>
<text x="1716.0" y="950" font-size="31" text-anchor="middle" fill="#000">12</text>
<text x="1666.0" y="436.0" font-size="32" font-weight="bold" fill="#008000">f</text>
<text x="1661.0" y="559.0" font-size="32" font-weight="bold" fill="#ff00ff">e</text>
<text x="1666.0" y="635.7" font-size="32" font-weight="bold" fill="#ff0000">d</text>
<text x="1670.0" y="704.6" font-size="32" font-weight="bold" fill="#0000ff">c</text>
<text x="1670.0" y="790.5" font-size="32" font-weight="bold" fill="#000000">b</text>
<text x="1674.0" y="849.0" font-size="32" font-weight="bold" fill="#000080">a</text>
</svg>
</body></html>
